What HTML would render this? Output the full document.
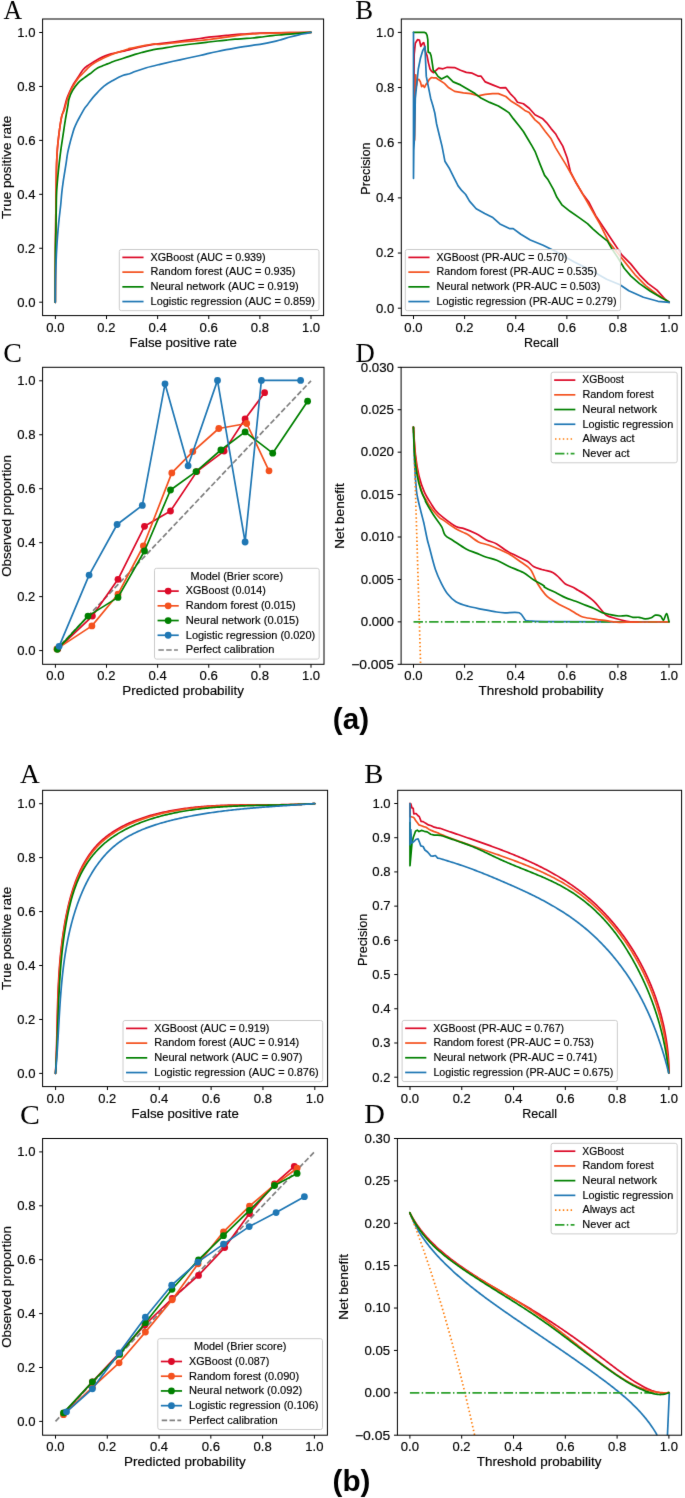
<!DOCTYPE html>
<html><head><meta charset="utf-8"><title>Model evaluation figure</title>
<style>html,body{margin:0;padding:0;background:#fff;} body{width:685px;height:1498px;overflow:hidden;font-family:"Liberation Sans",sans-serif;} svg{display:block;}</style>
</head><body>
<svg width="685" height="1498" viewBox="0 0 685 1498" font-family='"Liberation Sans", sans-serif'>
<defs><clipPath id="tA"><rect x="42.6" y="19" width="281" height="296.6"/></clipPath><clipPath id="tB"><rect x="401.3" y="19" width="280.3" height="296.6"/></clipPath><clipPath id="tC"><rect x="42.6" y="367.3" width="281.4" height="297"/></clipPath><clipPath id="tD"><rect x="401.1" y="367.3" width="280.5" height="297"/></clipPath><clipPath id="bA"><rect x="42.6" y="790.3" width="285" height="296.3"/></clipPath><clipPath id="bB"><rect x="397.7" y="790.3" width="283.9" height="296.3"/></clipPath><clipPath id="bC"><rect x="42.6" y="1138.5" width="284.8" height="296.7"/></clipPath><clipPath id="bD"><rect x="397.4" y="1138.5" width="284.2" height="296.7"/></clipPath><filter id="soft" x="0" y="0" width="685" height="1498" filterUnits="userSpaceOnUse" color-interpolation-filters="sRGB"><feConvolveMatrix order="3" kernelMatrix="0.00524 0.06192 0.00524 0.06192 0.73137 0.06192 0.00524 0.06192 0.00524" divisor="1" edgeMode="duplicate" preserveAlpha="true"/></filter></defs>
<g filter="url(#soft)">
<rect x="0" y="0" width="685" height="1498" fill="#ffffff"/>
<path d="M55.3,302.3 C55.33,293.58 55.4,266.22 55.5,250 C55.6,233.78 55.77,217 55.9,205 C56.03,193 56.18,184.93 56.3,178 C56.42,171.07 56.42,168.27 56.6,163.4 C56.78,158.53 57.08,153.07 57.4,148.8 C57.72,144.53 58.08,141.45 58.5,137.8 C58.92,134.15 59.35,130.53 59.9,126.9 C60.45,123.27 61.15,118.82 61.8,116 C62.45,113.18 62.98,112.85 63.8,110 C64.62,107.15 65.73,101.92 66.7,98.9 C67.67,95.88 68.43,94.43 69.6,91.9 C70.77,89.37 72.23,86.23 73.7,83.7 C75.17,81.17 76.85,79.03 78.4,76.7 C79.95,74.37 81.45,71.55 83,69.7 C84.55,67.85 85.95,66.87 87.7,65.6 C89.45,64.33 91.55,63.27 93.5,62.1 C95.45,60.93 97.45,59.63 99.4,58.6 C101.35,57.57 103.25,56.68 105.2,55.9 C107.15,55.12 108.95,54.52 111.1,53.9 C113.25,53.28 115.77,52.72 118.1,52.2 C120.43,51.68 123.12,51.23 125.1,50.8 C127.08,50.37 127.23,50.28 130,49.6 C132.77,48.92 137.8,47.57 141.7,46.7 C145.6,45.83 150.35,44.9 153.4,44.4 C156.45,43.9 155.58,44.25 160,43.7 C164.42,43.15 173.23,41.97 179.9,41.1 C186.57,40.23 195.18,39.15 200,38.5 C204.82,37.85 205.88,37.57 208.8,37.2 C211.72,36.83 214.58,36.6 217.5,36.3 C220.42,36 223.38,35.68 226.3,35.4 C229.22,35.12 232.08,34.83 235,34.6 C237.92,34.37 240.88,34.2 243.8,34 C246.72,33.8 249.8,33.55 252.5,33.4 C255.2,33.25 256.67,33.18 260,33.1 C263.33,33.02 267.5,32.98 272.5,32.9 C277.5,32.82 283.58,32.68 290,32.6 C296.42,32.52 307.5,32.43 311,32.4" fill="none" stroke="#dc0a28" stroke-width="1.7" stroke-linejoin="round" stroke-linecap="round" clip-path="url(#tA)"/>
<path d="M55.3,302.3 C55.33,293.58 55.4,266.22 55.5,250 C55.6,233.78 55.77,217 55.9,205 C56.03,193 56.18,184.93 56.3,178 C56.42,171.07 56.42,168.27 56.6,163.4 C56.78,158.53 57.08,153.07 57.4,148.8 C57.72,144.53 58.08,141.45 58.5,137.8 C58.92,134.15 59.35,130.53 59.9,126.9 C60.45,123.27 61.07,118.82 61.8,116 C62.53,113.18 63.3,113.05 64.3,110 C65.3,106.95 66.43,101.5 67.8,97.7 C69.17,93.9 70.73,90.5 72.5,87.2 C74.27,83.9 76.45,80.43 78.4,77.9 C80.35,75.37 82.27,73.95 84.2,72 C86.13,70.05 88.05,67.85 90,66.2 C91.95,64.55 93.95,63.3 95.9,62.1 C97.85,60.9 99.75,59.97 101.7,59 C103.65,58.03 105.65,57.15 107.6,56.3 C109.55,55.45 111.27,54.68 113.4,53.9 C115.53,53.12 118.07,52.37 120.4,51.6 C122.73,50.83 125.8,49.83 127.4,49.3 C129,48.77 127.62,48.93 130,48.4 C132.38,47.87 137.8,46.83 141.7,46.1 C145.6,45.37 150.35,44.3 153.4,44 C156.45,43.7 155.58,44.6 160,44.3 C164.42,44 173.23,42.83 179.9,42.2 C186.57,41.57 195.18,40.95 200,40.5 C204.82,40.05 205.88,39.87 208.8,39.5 C211.72,39.13 214.58,38.68 217.5,38.3 C220.42,37.92 223.38,37.6 226.3,37.2 C229.22,36.8 232.08,36.33 235,35.9 C237.92,35.47 240.88,34.92 243.8,34.6 C246.72,34.28 249.8,34.18 252.5,34 C255.2,33.82 256.67,33.65 260,33.5 C263.33,33.35 267.5,33.23 272.5,33.1 C277.5,32.97 283.58,32.82 290,32.7 C296.42,32.58 307.5,32.45 311,32.4" fill="none" stroke="#f4511e" stroke-width="1.7" stroke-linejoin="round" stroke-linecap="round" clip-path="url(#tA)"/>
<path d="M55.3,302.3 C55.3,297.08 55.27,280.22 55.3,271 C55.33,261.78 55.38,254.67 55.5,247 C55.62,239.33 55.87,232 56,225 C56.13,218 56.2,210.4 56.3,205 C56.4,199.6 56.37,197.1 56.6,192.6 C56.83,188.1 57.27,182.87 57.7,178 C58.13,173.13 58.65,168.27 59.2,163.4 C59.75,158.53 60.33,153.67 61,148.8 C61.67,143.93 62.47,139.07 63.2,134.2 C63.93,129.33 64.6,124.47 65.4,119.6 C66.2,114.73 67.4,108.45 68,105 C68.6,101.55 68.25,101.28 69,98.9 C69.75,96.52 70.93,93.42 72.5,90.7 C74.07,87.98 76.45,84.73 78.4,82.6 C80.35,80.47 82.27,79.37 84.2,77.9 C86.13,76.43 88.05,75.27 90,73.8 C91.95,72.33 93.95,70.37 95.9,69.1 C97.85,67.83 99.75,67.07 101.7,66.2 C103.65,65.33 105.65,64.68 107.6,63.9 C109.55,63.12 111.27,62.28 113.4,61.5 C115.53,60.72 118.07,59.97 120.4,59.2 C122.73,58.43 124.97,57.7 127.4,56.9 C129.83,56.1 132.62,55.13 135,54.4 C137.38,53.67 138.63,53.3 141.7,52.5 C144.77,51.7 150.35,50.23 153.4,49.6 C156.45,48.97 155.58,49.38 160,48.7 C164.42,48.02 173.23,46.43 179.9,45.5 C186.57,44.57 195.18,43.68 200,43.1 C204.82,42.52 205.88,42.35 208.8,42 C211.72,41.65 214.58,41.32 217.5,41 C220.42,40.68 223.38,40.4 226.3,40.1 C229.22,39.8 232.08,39.45 235,39.2 C237.92,38.95 240.88,38.8 243.8,38.6 C246.72,38.4 249.8,38.23 252.5,38 C255.2,37.77 256.67,37.6 260,37.2 C263.33,36.8 268.95,36 272.5,35.6 C276.05,35.2 278.38,35.05 281.3,34.8 C284.22,34.55 287.08,34.33 290,34.1 C292.92,33.87 295.3,33.68 298.8,33.4 C302.3,33.12 308.97,32.57 311,32.4" fill="none" stroke="#008000" stroke-width="1.7" stroke-linejoin="round" stroke-linecap="round" clip-path="url(#tA)"/>
<path d="M55.3,302.3 C55.35,297.95 55.35,285.4 55.6,276.2 C55.85,267 56.28,255.98 56.8,247.1 C57.32,238.22 58.05,229.92 58.7,222.9 C59.35,215.88 60.18,210.05 60.7,205 C61.22,199.95 61.38,196.5 61.8,192.6 C62.22,188.7 62.72,185 63.2,181.6 C63.68,178.2 64.22,175.23 64.7,172.2 C65.18,169.17 65.62,166.57 66.1,163.4 C66.58,160.23 66.98,156.48 67.6,153.2 C68.22,149.92 69.07,146.62 69.8,143.7 C70.53,140.78 71.27,138.25 72,135.7 C72.73,133.15 73.35,130.72 74.2,128.4 C75.05,126.08 76.02,124 77.1,121.8 C78.18,119.6 79.48,117.4 80.7,115.2 C81.92,113 83.3,110.3 84.4,108.6 C85.5,106.9 86.37,106.23 87.3,105 C88.23,103.77 88.57,103 90,101.2 C91.43,99.4 93.57,96.72 95.9,94.2 C98.23,91.68 101.08,88.43 104,86.1 C106.92,83.77 110.28,81.97 113.4,80.2 C116.52,78.43 119.98,76.57 122.7,75.5 C125.42,74.43 127.65,74.47 129.7,73.8 C131.75,73.13 132.22,72.52 135,71.5 C137.78,70.48 142.23,68.9 146.4,67.7 C150.57,66.5 154.42,65.62 160,64.3 C165.58,62.98 173.23,61.27 179.9,59.8 C186.57,58.33 195.18,56.57 200,55.5 C204.82,54.43 205.88,54.07 208.8,53.4 C211.72,52.73 214.58,52.12 217.5,51.5 C220.42,50.88 223.38,50.27 226.3,49.7 C229.22,49.13 232.08,48.62 235,48.1 C237.92,47.58 240.88,47.07 243.8,46.6 C246.72,46.13 249.8,45.68 252.5,45.3 C255.2,44.92 256.67,44.87 260,44.3 C263.33,43.73 268.95,42.68 272.5,41.9 C276.05,41.12 278.38,40.42 281.3,39.6 C284.22,38.78 287.08,37.8 290,37 C292.92,36.2 295.88,35.43 298.8,34.8 C301.72,34.17 305.47,33.6 307.5,33.2 C309.53,32.8 310.42,32.53 311,32.4" fill="none" stroke="#1f77b4" stroke-width="1.7" stroke-linejoin="round" stroke-linecap="round" clip-path="url(#tA)"/>
<path d="M413.9,140 L414,80 L414.2,54.3 L415.3,43.3 L417.5,39.7 L419.4,40 L420.8,46.3 L422.7,43.3 L423.8,42.6 L424.5,45.5 L425.6,52.1 L427.1,55.8 L428.5,63.1 L430,69 L431.5,71.2 L433.7,72.7 L435.9,70.5 L438.6,68.1 L443,68.8 L447.3,67.3 L454.6,67.6 L460.5,70.3 L466.3,72.4 L472.2,73.2 L478,76.1 L480.9,76.1 L485.3,81.9 L492.6,84.9 L499.9,87.8 L505.8,87.7 L510.2,93.6 L514.6,98 L517.5,102.3 L523.4,103.8 L529.2,108.2 L535,114.7 L542.3,118.4 L546.7,122.8 L551.1,128.6 L555.5,133.7 L558.4,138.8 L562.8,146.1 L567.2,158 L570.5,171.9 L576,182.8 L582.6,193.8 L589.1,202.6 L595.7,215.7 L604.4,228.8 L613.2,242 L622,255.1 L630.7,263.9 L639.5,274.8 L648.2,283.6 L657,290.1 L665.8,300 L669.2,302.3" fill="none" stroke="#dc0a28" stroke-width="1.7" stroke-linejoin="round" stroke-linecap="round" clip-path="url(#tB)"/>
<path d="M414.6,140 L415.2,90 L415.7,74.9 L416.4,85.9 L417.5,80 L419,79.3 L420.5,82.2 L421.6,86.6 L423,85.2 L424.5,87.4 L426,84.4 L427.8,82.2 L429.3,79.3 L431.5,77.5 L433.7,77.8 L435.9,77.8 L438,79.3 L440,80.5 L444.4,83.4 L448.8,87.8 L454.6,91.4 L463.4,92.9 L470.7,93.6 L478,95.8 L485.3,94.3 L492.6,93.6 L498.4,93.6 L505.8,96.5 L511.7,101.6 L519,106 L524.8,110.4 L529.2,112.6 L535,119.9 L539.4,123.5 L545.3,131.5 L551.1,138.8 L555.5,147.6 L559.9,154.9 L565,163.1 L573.8,178.5 L582.6,193.8 L591.3,209.1 L600.1,224.4 L608.8,242 L617.6,252.9 L626.3,263.9 L635.1,274.8 L646,285.8 L657,294.5 L665.8,300 L669.2,302.3" fill="none" stroke="#f4511e" stroke-width="1.7" stroke-linejoin="round" stroke-linecap="round" clip-path="url(#tB)"/>
<path d="M413.5,32.3 L424.1,32.3 L426,33.1 L427.1,35.3 L427.8,39.7 L428.2,52.1 L430,52.9 L431.1,55.8 L431.8,60.2 L432.6,65.3 L433.3,70.5 L435.1,72 L437,74.9 L438,76.4 L441.5,79 L447.3,76.1 L453.2,81.9 L460.5,84.9 L467.8,89.2 L475.1,93.6 L480.9,98 L489.7,102.4 L498.4,106 L504.5,109.8 L508.8,112.6 L513.1,118.4 L519,125.7 L523.4,131.5 L527.7,138.8 L532.1,146.1 L535,151.3 L540.3,164.9 L544.6,175.4 L548.1,179.8 L553.4,189.4 L556.9,197.3 L562.2,205.2 L570,211.3 L578.8,217.4 L587.5,223.6 L592.8,228.8 L598.8,234.2 L607.5,241.2 L611.5,248.2 L617.6,257.3 L624.2,268.2 L630.7,275.9 L639.5,283.6 L650.4,291.2 L661.4,297.8 L665.8,300 L669.2,302.3" fill="none" stroke="#008000" stroke-width="1.7" stroke-linejoin="round" stroke-linecap="round" clip-path="url(#tB)"/>
<path d="M413.5,32.3 L413.5,178.3 L413.8,150 L414.6,134.9 L415.3,98.4 L416.8,83.7 L418.3,69 L420.5,58 L422.7,50.7 L425,46.6 L425.6,61.7 L426.3,76.4 L428.5,87.4 L430.7,98.4 L432.9,105.7 L434.8,113 L436.6,124 L439.2,134.7 L442,146.1 L444.9,161.2 L449.6,168.8 L454.3,178.3 L458.1,185.9 L461.9,190.7 L465.7,194.5 L469.5,201.1 L476.2,208.7 L484.7,213.4 L492.3,217.2 L499.9,223.9 L509.4,228.6 L513.2,228.6 L520.8,234.3 L530.3,240 L543.1,245.2 L556.3,251.8 L573.8,261.7 L591.3,270.4 L606.6,279.2 L620,284.8 L628.8,290.7 L643.4,297.2 L658,301.3 L669.2,302.3" fill="none" stroke="#1f77b4" stroke-width="1.7" stroke-linejoin="round" stroke-linecap="round" clip-path="url(#tB)"/>
<path d="M55.4,650.6 L311,380.8" fill="none" stroke="#808080" stroke-width="1.7" stroke-linejoin="round" stroke-linecap="butt" stroke-dasharray="5.46,2.36" clip-path="url(#tC)"/>
<path d="M57.8,648.9 L92.4,616.1 L118,579.3 L144.5,526.3 L170.5,511 L196.8,471.6 L224.1,451.1 L245.1,419 L264.6,392.7" fill="none" stroke="#dc0a28" stroke-width="1.7" stroke-linejoin="round" stroke-linecap="round" clip-path="url(#tC)"/>
<circle cx="57.8" cy="648.9" r="3.4" fill="#dc0a28" clip-path="url(#tC)"/>
<circle cx="92.4" cy="616.1" r="3.4" fill="#dc0a28" clip-path="url(#tC)"/>
<circle cx="118" cy="579.3" r="3.4" fill="#dc0a28" clip-path="url(#tC)"/>
<circle cx="144.5" cy="526.3" r="3.4" fill="#dc0a28" clip-path="url(#tC)"/>
<circle cx="170.5" cy="511" r="3.4" fill="#dc0a28" clip-path="url(#tC)"/>
<circle cx="196.8" cy="471.6" r="3.4" fill="#dc0a28" clip-path="url(#tC)"/>
<circle cx="224.1" cy="451.1" r="3.4" fill="#dc0a28" clip-path="url(#tC)"/>
<circle cx="245.1" cy="419" r="3.4" fill="#dc0a28" clip-path="url(#tC)"/>
<circle cx="264.6" cy="392.7" r="3.4" fill="#dc0a28" clip-path="url(#tC)"/>
<path d="M56.9,648.9 L91.9,625.9 L118,594.2 L143.4,546 L171.8,472.9 L192.8,451.6 L218.8,428.5 L246.7,423.5 L269,470.8" fill="none" stroke="#f4511e" stroke-width="1.7" stroke-linejoin="round" stroke-linecap="round" clip-path="url(#tC)"/>
<circle cx="56.9" cy="648.9" r="3.4" fill="#f4511e" clip-path="url(#tC)"/>
<circle cx="91.9" cy="625.9" r="3.4" fill="#f4511e" clip-path="url(#tC)"/>
<circle cx="118" cy="594.2" r="3.4" fill="#f4511e" clip-path="url(#tC)"/>
<circle cx="143.4" cy="546" r="3.4" fill="#f4511e" clip-path="url(#tC)"/>
<circle cx="171.8" cy="472.9" r="3.4" fill="#f4511e" clip-path="url(#tC)"/>
<circle cx="192.8" cy="451.6" r="3.4" fill="#f4511e" clip-path="url(#tC)"/>
<circle cx="218.8" cy="428.5" r="3.4" fill="#f4511e" clip-path="url(#tC)"/>
<circle cx="246.7" cy="423.5" r="3.4" fill="#f4511e" clip-path="url(#tC)"/>
<circle cx="269" cy="470.8" r="3.4" fill="#f4511e" clip-path="url(#tC)"/>
<path d="M57.3,649.3 L88,616.1 L118,597.4 L144.5,551 L170.5,490 L196,471.6 L220.9,450 L245.1,431.9 L272.7,453.2 L307.6,401.2" fill="none" stroke="#008000" stroke-width="1.7" stroke-linejoin="round" stroke-linecap="round" clip-path="url(#tC)"/>
<circle cx="57.3" cy="649.3" r="3.4" fill="#008000" clip-path="url(#tC)"/>
<circle cx="88" cy="616.1" r="3.4" fill="#008000" clip-path="url(#tC)"/>
<circle cx="118" cy="597.4" r="3.4" fill="#008000" clip-path="url(#tC)"/>
<circle cx="144.5" cy="551" r="3.4" fill="#008000" clip-path="url(#tC)"/>
<circle cx="170.5" cy="490" r="3.4" fill="#008000" clip-path="url(#tC)"/>
<circle cx="196" cy="471.6" r="3.4" fill="#008000" clip-path="url(#tC)"/>
<circle cx="220.9" cy="450" r="3.4" fill="#008000" clip-path="url(#tC)"/>
<circle cx="245.1" cy="431.9" r="3.4" fill="#008000" clip-path="url(#tC)"/>
<circle cx="272.7" cy="453.2" r="3.4" fill="#008000" clip-path="url(#tC)"/>
<circle cx="307.6" cy="401.2" r="3.4" fill="#008000" clip-path="url(#tC)"/>
<path d="M59.1,646.3 L89.1,575.1 L117.1,524.5 L142.3,505.4 L165,383.8 L188.1,465.8 L217.5,380.4 L245.1,542 L261.4,380.4 L300.6,380.4" fill="none" stroke="#1f77b4" stroke-width="1.7" stroke-linejoin="round" stroke-linecap="round" clip-path="url(#tC)"/>
<circle cx="59.1" cy="646.3" r="3.4" fill="#1f77b4" clip-path="url(#tC)"/>
<circle cx="89.1" cy="575.1" r="3.4" fill="#1f77b4" clip-path="url(#tC)"/>
<circle cx="117.1" cy="524.5" r="3.4" fill="#1f77b4" clip-path="url(#tC)"/>
<circle cx="142.3" cy="505.4" r="3.4" fill="#1f77b4" clip-path="url(#tC)"/>
<circle cx="165" cy="383.8" r="3.4" fill="#1f77b4" clip-path="url(#tC)"/>
<circle cx="188.1" cy="465.8" r="3.4" fill="#1f77b4" clip-path="url(#tC)"/>
<circle cx="217.5" cy="380.4" r="3.4" fill="#1f77b4" clip-path="url(#tC)"/>
<circle cx="245.1" cy="542" r="3.4" fill="#1f77b4" clip-path="url(#tC)"/>
<circle cx="261.4" cy="380.4" r="3.4" fill="#1f77b4" clip-path="url(#tC)"/>
<circle cx="300.6" cy="380.4" r="3.4" fill="#1f77b4" clip-path="url(#tC)"/>
<path d="M413.4,427 C413.6,433.13 414.1,453.3 414.6,463.8 C415.1,474.3 415.82,483.97 416.4,490 C416.98,496.03 417.37,496.48 418.1,500 C418.83,503.52 419.95,507.7 420.8,511.1 C421.65,514.5 422.62,518.07 423.2,520.4 C423.78,522.73 423.6,521.83 424.3,525.1 C425,528.37 426.57,536.35 427.4,540 C428.23,543.65 427.97,542.08 429.3,547 C430.63,551.92 433.35,563.37 435.4,569.5 C437.45,575.63 439.55,579.72 441.6,583.8 C443.65,587.88 445.32,591 447.7,594 C450.08,597 452.5,599.75 455.9,601.8 C459.3,603.85 463.68,605.05 468.1,606.3 C472.52,607.55 477.63,608.35 482.4,609.3 C487.17,610.25 492.95,611.42 496.7,612 C500.45,612.58 501.15,612.67 504.9,612.8 C508.65,612.93 515.78,611.57 519.2,612.8 C522.62,614.03 523.7,618.83 525.4,620.2 C527.1,621.57 524.47,620.77 529.4,621 C534.33,621.23 531.73,621.45 555,621.6 C578.27,621.75 650,621.85 669,621.9" fill="none" stroke="#1f77b4" stroke-width="1.7" stroke-linejoin="round" stroke-linecap="round" clip-path="url(#tD)"/>
<path d="M413.5,427.55 L413.65,432.39 L413.8,437.23 L413.95,442.08 L414.1,446.94 L414.25,451.8 L414.39,456.67 L414.54,461.54 L414.69,466.42 L414.84,471.31 L414.99,476.2 L415.14,481.1 L415.29,486 L415.44,490.91 L415.59,495.82 L415.74,500.74 L415.88,505.66 L416.03,510.6 L416.18,515.53 L416.33,520.47 L416.48,525.42 L416.63,530.38 L416.78,535.34 L416.93,540.3 L417.08,545.28 L417.23,550.25 L417.38,555.24 L417.52,560.23 L417.67,565.22 L417.82,570.22 L417.97,575.23 L418.12,580.25 L418.27,585.27 L418.42,590.29 L418.57,595.32 L418.72,600.36 L418.87,605.4 L419.01,610.45 L419.16,615.51 L419.31,620.57 L419.46,625.64 L419.61,630.71 L419.76,635.79 L419.91,640.88 L420.06,645.97 L420.21,651.06 L420.36,656.17 L420.5,661.28 L420.65,666.4 L420.8,671.52 L420.95,676.65 L421.1,681.78 L421.25,686.92 L421.4,692.07 L421.55,697.22 L421.7,702.38 L421.85,707.55 L422,712.72 L422.14,717.9 L422.29,723.08 L422.44,728.27" fill="none" stroke="#ff7f0e" stroke-width="1.7" stroke-linejoin="round" stroke-linecap="butt" stroke-dasharray="1.47,2.43" clip-path="url(#tD)"/>
<path d="M413.5,621.87 L669,621.87" fill="none" stroke="#2ca02c" stroke-width="1.7" stroke-linejoin="round" stroke-linecap="butt" stroke-dasharray="9.44,2.36,1.47,2.36" clip-path="url(#tD)"/>
<path d="M413.4,427 C413.75,431.67 414.57,446.83 415.5,455 C416.43,463.17 417.53,469.87 419,476 C420.47,482.13 422.25,487.12 424.3,491.8 C426.35,496.48 429.45,501.03 431.3,504.1 C433.15,507.17 433.65,508.15 435.4,510.2 C437.15,512.25 438.38,513.67 441.8,516.4 C445.22,519.13 452.2,524.57 455.9,526.6 C459.6,528.63 460.6,527.42 464,528.6 C467.4,529.78 472.55,531.82 476.3,533.7 C480.05,535.58 483.1,538.2 486.5,539.9 C489.9,541.6 493.28,542.03 496.7,543.9 C500.12,545.77 503.58,549.05 507,551.1 C510.42,553.15 513.8,554.5 517.2,556.2 C520.6,557.9 524.68,559.6 527.4,561.3 C530.12,563 531.12,565.03 533.5,566.4 C535.88,567.77 539.78,568.87 541.7,569.5 C543.62,570.13 543.08,569.67 545,570.2 C546.92,570.73 550.82,571.43 553.2,572.7 C555.58,573.97 557.27,575.92 559.3,577.8 C561.33,579.68 563.02,582.4 565.4,584 C567.78,585.6 571.55,586.38 573.6,587.4 C575.65,588.42 576,589.08 577.7,590.1 C579.4,591.12 581.08,591.63 583.8,593.5 C586.52,595.37 591.27,598.8 594,601.3 C596.73,603.8 598.15,606.18 600.2,608.5 C602.25,610.82 603.58,613.5 606.3,615.2 C609.02,616.9 613.1,617.68 616.5,618.7 C619.9,619.72 624.28,620.77 626.7,621.3 C629.12,621.83 629.12,621.78 631,621.9 C632.88,622.02 636.83,621.98 638,622" fill="none" stroke="#dc0a28" stroke-width="1.7" stroke-linejoin="round" stroke-linecap="round" clip-path="url(#tD)"/>
<path d="M413.4,427 C413.7,431.67 414.32,446.23 415.2,455 C416.08,463.77 417.48,473.17 418.7,479.6 C419.92,486.03 421.25,490.2 422.5,493.6 C423.75,497 425.03,497.97 426.2,500 C427.37,502.03 427.97,503.58 429.5,505.8 C431.03,508.02 433.65,511.25 435.4,513.3 C437.15,515.35 438.63,516.92 440,518.1 C441.37,519.28 441.1,518.72 443.6,520.4 C446.1,522.08 451.5,526.1 455,528.2 C458.5,530.3 462.42,531.92 464.6,533 C466.78,534.08 465.8,533.22 468.1,534.7 C470.4,536.18 474.98,540.18 478.4,541.9 C481.82,543.62 484.87,543.63 488.6,545 C492.33,546.37 497.05,548.4 500.8,550.1 C504.55,551.8 507.68,553.17 511.1,555.2 C514.52,557.23 518.07,559.92 521.3,562.3 C524.53,564.68 527.78,565.92 530.5,569.5 C533.22,573.08 535.12,579.62 537.6,583.8 C540.08,587.98 543.15,592.02 545.4,594.6 C547.65,597.18 548.78,597.67 551.1,599.3 C553.42,600.93 556.23,602.7 559.3,604.4 C562.37,606.1 566.43,607.8 569.5,609.5 C572.57,611.2 575.32,613.3 577.7,614.6 C580.08,615.9 580.73,616.52 583.8,617.3 C586.87,618.08 592.35,618.73 596.1,619.3 C599.85,619.87 602.9,620.22 606.3,620.7 C609.7,621.18 613.1,621.95 616.5,622.2 C619.9,622.45 617.95,622.27 626.7,622.2 C635.45,622.13 661.95,621.87 669,621.8" fill="none" stroke="#f4511e" stroke-width="1.7" stroke-linejoin="round" stroke-linecap="round" clip-path="url(#tD)"/>
<path d="M413.4,427 C413.6,431.67 413.95,446.83 414.6,455 C415.25,463.17 416.27,470.17 417.3,476 C418.33,481.83 419.48,486 420.8,490 C422.12,494 424.33,497.95 425.2,500 C426.07,502.05 424.67,499.88 426,502.3 C427.33,504.72 430.6,510.45 433.2,514.5 C435.8,518.55 439.6,523.13 441.6,526.6 C443.6,530.07 443.3,532.98 445.2,535.3 C447.1,537.62 449.52,538.22 453,540.5 C456.48,542.78 462.22,546.9 466.1,549 C469.98,551.1 472.9,551.73 476.3,553.1 C479.7,554.47 483.1,556 486.5,557.2 C489.9,558.4 492.95,558.77 496.7,560.3 C500.45,561.83 504.57,564.35 509,566.4 C513.43,568.45 519.22,570.38 523.3,572.6 C527.38,574.82 530.08,577.5 533.5,579.7 C536.92,581.9 541.88,584.52 543.8,585.8 C545.72,587.08 542.75,586.12 545,587.4 C547.25,588.68 553.9,591.8 557.3,593.5 C560.7,595.2 562.33,596.3 565.4,597.6 C568.47,598.9 572.28,600 575.7,601.3 C579.12,602.6 582.85,604.2 585.9,605.4 C588.95,606.6 591.28,607.3 594,608.5 C596.72,609.7 599.47,611.58 602.2,612.6 C604.93,613.62 607.67,614.03 610.4,614.6 C613.13,615.17 615.88,615.83 618.6,616 C621.32,616.17 624.32,615.38 626.7,615.6 C629.08,615.82 630.85,617.02 632.9,617.3 C634.95,617.58 636.97,617.03 639,617.3 C641.03,617.57 643.05,618.83 645.1,618.9 C647.15,618.97 649.58,618.32 651.3,617.7 C653.02,617.08 653.87,615.48 655.4,615.2 C656.93,614.92 659.15,615.18 660.5,616 C661.85,616.82 662.48,620.5 663.5,620.1 C664.52,619.7 665.68,613.33 666.6,613.6 C667.52,613.87 668.6,620.35 669,621.7" fill="none" stroke="#008000" stroke-width="1.7" stroke-linejoin="round" stroke-linecap="round" clip-path="url(#tD)"/>
<path d="M55.5,1073.4 L55.58,1071.89 L55.65,1070.39 L55.72,1068.89 L55.79,1067.38 L55.86,1065.88 L55.93,1064.38 L55.99,1062.88 L56.05,1061.38 L56.11,1059.88 L56.16,1058.38 L56.22,1056.88 L56.27,1055.39 L56.32,1053.89 L56.37,1052.39 L56.42,1050.9 L56.46,1049.4 L56.5,1047.91 L56.55,1046.42 L56.59,1044.92 L56.63,1043.43 L56.67,1041.94 L56.71,1040.44 L56.75,1038.95 L56.78,1037.46 L56.82,1035.97 L56.85,1034.48 L56.89,1032.99 L56.92,1031.5 L56.96,1030.01 L56.99,1028.52 L57.03,1027.04 L57.06,1025.55 L57.1,1024.06 L57.13,1022.57 L57.17,1021.08 L57.2,1019.6 L57.24,1018.11 L57.27,1016.62 L57.31,1015.14 L57.35,1013.65 L57.39,1012.17 L57.43,1010.68 L57.47,1009.19 L57.51,1007.71 L57.55,1006.22 L57.6,1004.74 L57.64,1003.25 L57.69,1001.77 L57.74,1000.28 L57.79,998.8 L57.84,997.31 L57.9,995.83 L57.95,994.34 L58.01,992.86 L58.07,991.37 L58.13,989.89 L58.2,988.4 L58.27,986.92 L58.34,985.43 L58.41,983.95 L58.49,982.46 L58.56,980.97 L58.65,979.49 L58.73,978 L58.82,976.52 L58.91,975.03 L59,973.54 L59.1,972.06 L59.2,970.57 L59.31,969.08 L59.41,967.59 L59.53,966.11 L59.64,964.62 L59.76,963.13 L59.89,961.64 L60.01,960.15 L60.15,958.66 L60.28,957.17 L60.42,955.68 L60.57,954.19 L60.72,952.7 L60.88,951.21 L61.04,949.72 L61.2,948.22 L61.37,946.73 L61.55,945.24 L61.73,943.74 L61.91,942.25 L62.1,940.75 L62.3,939.26 L62.5,937.76 L62.71,936.26 L62.92,934.77 L63.14,933.27 L63.37,931.77 L63.6,930.27 L63.83,928.77 L64.08,927.27 L64.33,925.77 L64.58,924.26 L64.85,922.76 L65.12,921.26 L65.39,919.75 L65.68,918.25 L65.97,916.74 L66.26,915.24 L66.57,913.73 L66.88,912.23 L67.2,910.73 L67.53,909.23 L67.87,907.73 L68.21,906.23 L68.57,904.73 L68.93,903.24 L69.3,901.75 L69.69,900.27 L70.08,898.78 L70.48,897.31 L70.89,895.83 L71.31,894.36 L71.74,892.9 L72.19,891.44 L72.64,889.99 L73.1,888.54 L73.58,887.1 L74.07,885.66 L74.57,884.24 L75.08,882.81 L75.6,881.4 L76.13,880 L76.68,878.6 L77.24,877.21 L77.82,875.83 L78.4,874.46 L79,873.1 L79.61,871.75 L80.24,870.41 L80.88,869.08 L81.54,867.76 L82.21,866.46 L82.89,865.16 L83.59,863.87 L84.3,862.6 L85.03,861.34 L85.78,860.1 L86.54,858.86 L87.31,857.64 L88.1,856.43 L88.91,855.24 L89.74,854.06 L90.58,852.9 L91.44,851.75 L92.31,850.62 L93.2,849.5 L94.11,848.4 L95.04,847.31 L95.99,846.24 L96.95,845.19 L97.93,844.16 L98.93,843.14 L99.95,842.14 L100.99,841.16 L102.04,840.19 L103.12,839.25 L104.21,838.32 L105.31,837.41 L106.44,836.51 L107.58,835.64 L108.73,834.77 L109.91,833.93 L111.09,833.1 L112.3,832.29 L113.51,831.49 L114.74,830.71 L115.99,829.95 L117.25,829.2 L118.52,828.47 L119.8,827.75 L121.1,827.04 L122.41,826.35 L123.73,825.68 L125.06,825.02 L126.4,824.38 L127.76,823.74 L129.12,823.13 L130.49,822.52 L131.88,821.93 L133.27,821.36 L134.67,820.8 L136.08,820.25 L137.5,819.71 L138.93,819.19 L140.36,818.68 L141.8,818.18 L143.25,817.69 L144.71,817.22 L146.17,816.76 L147.64,816.31 L149.11,815.87 L150.59,815.44 L152.07,815.03 L153.55,814.62 L155.05,814.23 L156.54,813.85 L158.04,813.48 L159.54,813.12 L161.04,812.77 L162.55,812.43 L164.06,812.1 L165.57,811.78 L167.08,811.47 L168.59,811.17 L170.1,810.88 L171.61,810.59 L173.13,810.32 L174.64,810.06 L176.15,809.8 L177.66,809.56 L179.17,809.32 L180.67,809.09 L182.18,808.87 L183.68,808.65 L185.19,808.45 L186.69,808.25 L188.18,808.06 L189.68,807.87 L191.18,807.7 L192.67,807.53 L194.17,807.37 L195.66,807.21 L197.15,807.06 L198.64,806.92 L200.13,806.78 L201.61,806.65 L203.1,806.53 L204.59,806.41 L206.07,806.3 L207.55,806.2 L209.04,806.09 L210.52,806 L212,805.91 L213.48,805.82 L214.96,805.74 L216.44,805.67 L217.92,805.59 L219.39,805.53 L220.87,805.46 L222.35,805.41 L223.82,805.35 L225.3,805.3 L226.77,805.25 L228.25,805.21 L229.72,805.17 L231.2,805.13 L232.67,805.1 L234.15,805.07 L235.62,805.04 L237.1,805.01 L238.57,804.99 L240.04,804.97 L241.52,804.95 L242.99,804.93 L244.47,804.92 L245.94,804.91 L247.42,804.89 L248.89,804.88 L250.37,804.88 L251.85,804.87 L253.32,804.86 L254.8,804.86 L256.28,804.85 L257.76,804.85 L259.24,804.84 L260.71,804.84 L262.2,804.83 L263.68,804.83 L265.16,804.83 L266.64,804.82 L268.12,804.82 L269.61,804.81 L271.09,804.8 L272.58,804.8 L274.07,804.79 L275.56,804.78 L277.05,804.77 L278.54,804.75 L280.03,804.74 L281.52,804.72 L283.02,804.7 L284.52,804.68 L286.01,804.66 L287.51,804.64 L289.01,804.61 L290.52,804.58 L292.02,804.55 L293.53,804.51 L295.03,804.47 L296.54,804.43 L298.05,804.38 L299.56,804.33 L301.08,804.28 L302.6,804.22 L304.11,804.16 L305.63,804.09 L307.16,804.02 L308.68,803.95 L310.21,803.87 L311.74,803.78 L313.27,803.69 L314.8,803.6" fill="none" stroke="#dc0a28" stroke-width="1.7" stroke-linejoin="round" stroke-linecap="round" clip-path="url(#bA)"/>
<path d="M55.5,1073.4 L55.59,1071.92 L55.68,1070.43 L55.77,1068.95 L55.85,1067.46 L55.93,1065.98 L56.01,1064.49 L56.08,1063.01 L56.16,1061.52 L56.23,1060.03 L56.29,1058.55 L56.36,1057.06 L56.42,1055.57 L56.48,1054.09 L56.54,1052.6 L56.6,1051.11 L56.65,1049.63 L56.7,1048.14 L56.75,1046.65 L56.8,1045.16 L56.85,1043.67 L56.9,1042.18 L56.94,1040.7 L56.99,1039.21 L57.03,1037.72 L57.07,1036.23 L57.11,1034.74 L57.15,1033.25 L57.19,1031.76 L57.23,1030.27 L57.27,1028.78 L57.31,1027.29 L57.35,1025.8 L57.39,1024.31 L57.43,1022.82 L57.46,1021.32 L57.5,1019.83 L57.54,1018.34 L57.58,1016.85 L57.62,1015.36 L57.66,1013.86 L57.7,1012.37 L57.74,1010.88 L57.79,1009.39 L57.83,1007.89 L57.87,1006.4 L57.92,1004.91 L57.97,1003.41 L58.01,1001.92 L58.06,1000.43 L58.12,998.93 L58.17,997.44 L58.22,995.94 L58.28,994.45 L58.34,992.95 L58.4,991.46 L58.46,989.96 L58.53,988.47 L58.6,986.97 L58.67,985.48 L58.74,983.98 L58.81,982.49 L58.89,980.99 L58.97,979.5 L59.06,978 L59.15,976.5 L59.24,975.01 L59.33,973.51 L59.43,972.01 L59.53,970.51 L59.63,969.02 L59.74,967.52 L59.85,966.02 L59.97,964.52 L60.09,963.03 L60.21,961.53 L60.34,960.03 L60.47,958.53 L60.61,957.03 L60.75,955.54 L60.9,954.04 L61.05,952.54 L61.21,951.04 L61.37,949.54 L61.53,948.04 L61.7,946.54 L61.88,945.04 L62.06,943.54 L62.25,942.04 L62.44,940.54 L62.64,939.04 L62.84,937.54 L63.05,936.04 L63.27,934.54 L63.49,933.04 L63.72,931.54 L63.95,930.04 L64.19,928.54 L64.44,927.04 L64.69,925.54 L64.95,924.04 L65.22,922.53 L65.5,921.03 L65.78,919.53 L66.06,918.03 L66.36,916.53 L66.66,915.03 L66.97,913.53 L67.29,912.03 L67.62,910.54 L67.95,909.04 L68.3,907.55 L68.65,906.06 L69.01,904.57 L69.39,903.09 L69.77,901.61 L70.16,900.14 L70.56,898.66 L70.97,897.2 L71.39,895.73 L71.82,894.28 L72.26,892.82 L72.71,891.38 L73.18,889.94 L73.65,888.5 L74.14,887.08 L74.64,885.65 L75.15,884.24 L75.67,882.84 L76.21,881.44 L76.75,880.05 L77.32,878.67 L77.89,877.29 L78.48,875.93 L79.08,874.58 L79.69,873.23 L80.32,871.9 L80.96,870.57 L81.62,869.26 L82.29,867.96 L82.97,866.66 L83.67,865.38 L84.39,864.12 L85.12,862.86 L85.87,861.62 L86.63,860.39 L87.41,859.17 L88.2,857.96 L89.01,856.77 L89.84,855.6 L90.69,854.43 L91.55,853.29 L92.43,852.15 L93.32,851.04 L94.24,849.94 L95.17,848.85 L96.12,847.78 L97.09,846.73 L98.07,845.69 L99.08,844.67 L100.1,843.67 L101.15,842.68 L102.21,841.71 L103.29,840.76 L104.38,839.83 L105.49,838.91 L106.62,838.01 L107.77,837.13 L108.93,836.26 L110.11,835.4 L111.3,834.57 L112.5,833.75 L113.72,832.94 L114.96,832.15 L116.2,831.38 L117.47,830.62 L118.74,829.87 L120.02,829.14 L121.32,828.43 L122.63,827.72 L123.95,827.04 L125.28,826.37 L126.62,825.71 L127.97,825.06 L129.33,824.43 L130.7,823.82 L132.08,823.21 L133.46,822.62 L134.86,822.04 L136.26,821.48 L137.67,820.93 L139.08,820.39 L140.5,819.86 L141.93,819.35 L143.37,818.85 L144.81,818.36 L146.26,817.88 L147.71,817.41 L149.17,816.96 L150.63,816.52 L152.1,816.09 L153.57,815.67 L155.04,815.26 L156.52,814.86 L158,814.47 L159.49,814.1 L160.98,813.73 L162.47,813.37 L163.96,813.03 L165.46,812.69 L166.95,812.36 L168.45,812.05 L169.95,811.74 L171.45,811.44 L172.95,811.15 L174.46,810.87 L175.96,810.6 L177.46,810.34 L178.96,810.09 L180.46,809.85 L181.96,809.61 L183.46,809.38 L184.96,809.16 L186.45,808.95 L187.95,808.74 L189.45,808.55 L190.94,808.36 L192.44,808.18 L193.93,808 L195.43,807.83 L196.92,807.67 L198.41,807.52 L199.91,807.37 L201.4,807.23 L202.89,807.09 L204.38,806.96 L205.87,806.84 L207.37,806.72 L208.86,806.61 L210.35,806.5 L211.84,806.4 L213.33,806.3 L214.81,806.21 L216.3,806.12 L217.79,806.04 L219.28,805.97 L220.77,805.89 L222.26,805.82 L223.74,805.76 L225.23,805.7 L226.72,805.64 L228.21,805.59 L229.69,805.54 L231.18,805.49 L232.67,805.45 L234.16,805.41 L235.64,805.37 L237.13,805.34 L238.62,805.31 L240.1,805.28 L241.59,805.25 L243.08,805.23 L244.56,805.2 L246.05,805.18 L247.54,805.16 L249.02,805.14 L250.51,805.13 L252,805.11 L253.49,805.1 L254.97,805.09 L256.46,805.07 L257.95,805.06 L259.44,805.05 L260.93,805.04 L262.41,805.03 L263.9,805.02 L265.39,805.01 L266.88,805 L268.37,804.99 L269.86,804.97 L271.35,804.96 L272.84,804.95 L274.33,804.93 L275.83,804.92 L277.32,804.9 L278.81,804.88 L280.3,804.86 L281.8,804.84 L283.29,804.81 L284.79,804.79 L286.28,804.76 L287.78,804.73 L289.27,804.7 L290.77,804.66 L292.26,804.62 L293.76,804.58 L295.26,804.53 L296.76,804.49 L298.26,804.44 L299.76,804.38 L301.26,804.32 L302.76,804.26 L304.26,804.19 L305.77,804.12 L307.27,804.05 L308.77,803.97 L310.28,803.88 L311.79,803.79 L313.29,803.7 L314.8,803.6" fill="none" stroke="#f4511e" stroke-width="1.7" stroke-linejoin="round" stroke-linecap="round" clip-path="url(#bA)"/>
<path d="M55.5,1073.4 L55.6,1071.94 L55.7,1070.49 L55.79,1069.03 L55.89,1067.57 L55.98,1066.11 L56.06,1064.64 L56.15,1063.18 L56.23,1061.71 L56.31,1060.25 L56.39,1058.78 L56.46,1057.31 L56.54,1055.84 L56.61,1054.36 L56.68,1052.89 L56.75,1051.41 L56.82,1049.94 L56.88,1048.46 L56.94,1046.98 L57.01,1045.5 L57.07,1044.02 L57.13,1042.53 L57.19,1041.05 L57.24,1039.56 L57.3,1038.08 L57.36,1036.59 L57.41,1035.1 L57.47,1033.61 L57.52,1032.12 L57.57,1030.63 L57.63,1029.14 L57.68,1027.64 L57.73,1026.15 L57.79,1024.65 L57.84,1023.16 L57.89,1021.66 L57.95,1020.16 L58,1018.67 L58.05,1017.17 L58.11,1015.67 L58.16,1014.17 L58.22,1012.66 L58.27,1011.16 L58.33,1009.66 L58.39,1008.16 L58.45,1006.65 L58.51,1005.15 L58.57,1003.65 L58.63,1002.14 L58.7,1000.63 L58.76,999.13 L58.83,997.62 L58.9,996.11 L58.97,994.61 L59.04,993.1 L59.12,991.59 L59.2,990.08 L59.27,988.58 L59.36,987.07 L59.44,985.56 L59.53,984.05 L59.61,982.54 L59.7,981.03 L59.8,979.52 L59.9,978.01 L59.99,976.5 L60.1,974.99 L60.2,973.48 L60.31,971.97 L60.42,970.46 L60.54,968.95 L60.66,967.44 L60.78,965.93 L60.91,964.42 L61.04,962.91 L61.17,961.4 L61.31,959.89 L61.45,958.39 L61.59,956.88 L61.74,955.37 L61.9,953.86 L62.06,952.35 L62.22,950.85 L62.39,949.34 L62.56,947.83 L62.73,946.33 L62.92,944.82 L63.1,943.32 L63.29,941.81 L63.49,940.31 L63.69,938.8 L63.9,937.3 L64.11,935.8 L64.33,934.3 L64.55,932.79 L64.78,931.29 L65.02,929.79 L65.26,928.29 L65.51,926.8 L65.76,925.3 L66.02,923.8 L66.29,922.31 L66.56,920.81 L66.84,919.32 L67.12,917.82 L67.41,916.33 L67.71,914.84 L68.02,913.35 L68.33,911.87 L68.66,910.38 L68.99,908.9 L69.33,907.42 L69.68,905.95 L70.04,904.48 L70.41,903.01 L70.79,901.55 L71.18,900.09 L71.58,898.64 L71.99,897.19 L72.42,895.75 L72.85,894.31 L73.3,892.88 L73.76,891.46 L74.24,890.04 L74.72,888.63 L75.22,887.23 L75.74,885.83 L76.27,884.44 L76.81,883.06 L77.37,881.69 L77.94,880.33 L78.53,878.97 L79.13,877.63 L79.75,876.29 L80.39,874.97 L81.04,873.65 L81.71,872.34 L82.4,871.05 L83.1,869.77 L83.82,868.49 L84.56,867.23 L85.31,865.98 L86.08,864.75 L86.87,863.52 L87.67,862.31 L88.49,861.11 L89.33,859.92 L90.18,858.75 L91.05,857.59 L91.94,856.45 L92.84,855.32 L93.76,854.2 L94.7,853.1 L95.65,852.02 L96.62,850.95 L97.6,849.89 L98.61,848.86 L99.63,847.83 L100.66,846.83 L101.71,845.84 L102.78,844.87 L103.86,843.91 L104.96,842.97 L106.08,842.05 L107.2,841.14 L108.35,840.25 L109.5,839.37 L110.67,838.51 L111.86,837.66 L113.06,836.83 L114.27,836.01 L115.49,835.21 L116.73,834.42 L117.97,833.65 L119.23,832.89 L120.5,832.14 L121.79,831.41 L123.08,830.69 L124.39,829.99 L125.7,829.3 L127.02,828.62 L128.36,827.96 L129.7,827.31 L131.06,826.67 L132.42,826.04 L133.79,825.43 L135.17,824.83 L136.56,824.25 L137.95,823.67 L139.35,823.11 L140.76,822.56 L142.18,822.02 L143.61,821.5 L145.04,820.98 L146.47,820.48 L147.91,819.99 L149.36,819.51 L150.81,819.04 L152.27,818.58 L153.73,818.13 L155.2,817.69 L156.67,817.27 L158.14,816.85 L159.62,816.45 L161.1,816.05 L162.59,815.67 L164.07,815.29 L165.56,814.92 L167.05,814.57 L168.55,814.22 L170.04,813.88 L171.53,813.55 L173.03,813.23 L174.53,812.92 L176.02,812.62 L177.52,812.33 L179.02,812.04 L180.51,811.77 L182.01,811.5 L183.51,811.24 L185,810.99 L186.5,810.74 L187.99,810.5 L189.48,810.27 L190.98,810.05 L192.47,809.84 L193.96,809.63 L195.46,809.43 L196.95,809.23 L198.44,809.05 L199.93,808.87 L201.42,808.69 L202.91,808.52 L204.41,808.36 L205.9,808.2 L207.39,808.05 L208.88,807.91 L210.37,807.77 L211.86,807.64 L213.35,807.51 L214.84,807.39 L216.32,807.27 L217.81,807.15 L219.3,807.04 L220.79,806.94 L222.28,806.84 L223.77,806.75 L225.26,806.65 L226.74,806.57 L228.23,806.48 L229.72,806.41 L231.21,806.33 L232.7,806.26 L234.19,806.19 L235.67,806.12 L237.16,806.06 L238.65,806 L240.14,805.94 L241.63,805.89 L243.11,805.84 L244.6,805.79 L246.09,805.74 L247.58,805.7 L249.07,805.65 L250.55,805.61 L252.04,805.57 L253.53,805.53 L255.02,805.5 L256.51,805.46 L258,805.43 L259.49,805.39 L260.98,805.36 L262.47,805.33 L263.96,805.3 L265.45,805.27 L266.94,805.24 L268.43,805.21 L269.92,805.18 L271.41,805.15 L272.9,805.12 L274.39,805.09 L275.88,805.05 L277.37,805.02 L278.87,804.99 L280.36,804.96 L281.85,804.92 L283.35,804.89 L284.84,804.85 L286.33,804.81 L287.83,804.77 L289.32,804.73 L290.82,804.68 L292.31,804.63 L293.81,804.59 L295.3,804.54 L296.8,804.48 L298.3,804.43 L299.8,804.37 L301.29,804.31 L302.79,804.24 L304.29,804.17 L305.79,804.1 L307.29,804.03 L308.79,803.95 L310.29,803.87 L311.79,803.78 L313.3,803.69 L314.8,803.6" fill="none" stroke="#008000" stroke-width="1.7" stroke-linejoin="round" stroke-linecap="round" clip-path="url(#bA)"/>
<path d="M55.5,1073.4 L55.63,1071.94 L55.77,1070.49 L55.89,1069.03 L56.02,1067.57 L56.14,1066.1 L56.26,1064.64 L56.38,1063.17 L56.49,1061.7 L56.6,1060.23 L56.71,1058.76 L56.82,1057.29 L56.92,1055.81 L57.03,1054.34 L57.13,1052.86 L57.22,1051.38 L57.32,1049.9 L57.42,1048.41 L57.51,1046.93 L57.6,1045.45 L57.69,1043.96 L57.78,1042.47 L57.87,1040.98 L57.96,1039.49 L58.04,1038 L58.13,1036.51 L58.21,1035.02 L58.3,1033.52 L58.38,1032.03 L58.47,1030.53 L58.55,1029.04 L58.64,1027.54 L58.72,1026.04 L58.8,1024.54 L58.89,1023.04 L58.98,1021.54 L59.06,1020.04 L59.15,1018.54 L59.24,1017.04 L59.32,1015.53 L59.41,1014.03 L59.5,1012.53 L59.6,1011.02 L59.69,1009.52 L59.78,1008.01 L59.88,1006.51 L59.98,1005 L60.08,1003.5 L60.18,1001.99 L60.29,1000.49 L60.39,998.98 L60.5,997.48 L60.62,995.97 L60.73,994.47 L60.85,992.96 L60.97,991.46 L61.09,989.95 L61.22,988.45 L61.35,986.94 L61.48,985.44 L61.61,983.93 L61.75,982.43 L61.9,980.93 L62.04,979.42 L62.19,977.92 L62.35,976.42 L62.51,974.92 L62.67,973.42 L62.84,971.92 L63.01,970.42 L63.19,968.92 L63.37,967.42 L63.56,965.93 L63.75,964.43 L63.95,962.94 L64.15,961.44 L64.36,959.95 L64.57,958.46 L64.79,956.97 L65.01,955.48 L65.24,953.99 L65.48,952.5 L65.72,951.01 L65.97,949.53 L66.22,948.04 L66.48,946.56 L66.75,945.08 L67.03,943.6 L67.31,942.12 L67.59,940.65 L67.89,939.17 L68.19,937.7 L68.5,936.23 L68.82,934.76 L69.14,933.29 L69.47,931.82 L69.81,930.36 L70.16,928.89 L70.51,927.43 L70.88,925.97 L71.25,924.51 L71.63,923.06 L72.02,921.61 L72.41,920.15 L72.82,918.7 L73.23,917.26 L73.66,915.81 L74.09,914.37 L74.53,912.93 L74.98,911.49 L75.44,910.06 L75.91,908.62 L76.39,907.19 L76.88,905.76 L77.38,904.34 L77.89,902.91 L78.4,901.49 L78.93,900.08 L79.47,898.67 L80.02,897.26 L80.58,895.86 L81.15,894.46 L81.74,893.07 L82.33,891.68 L82.93,890.3 L83.55,888.93 L84.17,887.56 L84.81,886.2 L85.46,884.84 L86.12,883.5 L86.8,882.16 L87.48,880.83 L88.18,879.51 L88.89,878.19 L89.61,876.89 L90.34,875.59 L91.09,874.31 L91.84,873.03 L92.61,871.77 L93.4,870.51 L94.2,869.27 L95.01,868.04 L95.83,866.82 L96.66,865.61 L97.51,864.41 L98.38,863.23 L99.26,862.06 L100.15,860.9 L101.05,859.76 L101.97,858.62 L102.9,857.51 L103.85,856.41 L104.81,855.32 L105.79,854.24 L106.78,853.19 L107.78,852.15 L108.8,851.12 L109.84,850.11 L110.89,849.12 L111.95,848.14 L113.03,847.18 L114.13,846.24 L115.24,845.32 L116.37,844.41 L117.51,843.52 L118.67,842.65 L119.85,841.8 L121.04,840.97 L122.24,840.15 L123.46,839.36 L124.69,838.57 L125.93,837.81 L127.19,837.06 L128.46,836.33 L129.74,835.61 L131.04,834.91 L132.34,834.23 L133.66,833.56 L134.99,832.9 L136.33,832.26 L137.68,831.63 L139.03,831.02 L140.4,830.42 L141.78,829.83 L143.17,829.26 L144.56,828.7 L145.96,828.15 L147.37,827.62 L148.79,827.09 L150.21,826.58 L151.64,826.08 L153.08,825.6 L154.52,825.12 L155.97,824.65 L157.42,824.19 L158.88,823.75 L160.34,823.31 L161.81,822.88 L163.28,822.47 L164.75,822.06 L166.23,821.66 L167.71,821.27 L169.19,820.89 L170.67,820.51 L172.16,820.14 L173.64,819.78 L175.13,819.43 L176.61,819.08 L178.1,818.74 L179.59,818.41 L181.07,818.09 L182.56,817.76 L184.04,817.45 L185.53,817.14 L187.01,816.84 L188.5,816.54 L189.98,816.25 L191.46,815.96 L192.95,815.68 L194.43,815.41 L195.91,815.14 L197.4,814.88 L198.88,814.62 L200.36,814.36 L201.84,814.11 L203.32,813.87 L204.81,813.63 L206.29,813.4 L207.77,813.17 L209.25,812.94 L210.73,812.72 L212.21,812.51 L213.69,812.3 L215.17,812.09 L216.65,811.89 L218.13,811.69 L219.61,811.49 L221.09,811.3 L222.57,811.11 L224.05,810.93 L225.53,810.75 L227.01,810.58 L228.5,810.4 L229.98,810.23 L231.46,810.07 L232.94,809.91 L234.42,809.75 L235.9,809.59 L237.38,809.44 L238.86,809.29 L240.34,809.14 L241.82,809 L243.3,808.86 L244.78,808.72 L246.26,808.58 L247.75,808.45 L249.23,808.31 L250.71,808.19 L252.19,808.06 L253.67,807.93 L255.16,807.81 L256.64,807.69 L258.12,807.57 L259.61,807.45 L261.09,807.34 L262.57,807.22 L264.06,807.11 L265.54,807 L267.03,806.89 L268.51,806.78 L270,806.67 L271.49,806.57 L272.97,806.46 L274.46,806.36 L275.95,806.25 L277.43,806.15 L278.92,806.05 L280.41,805.95 L281.9,805.85 L283.39,805.75 L284.88,805.65 L286.37,805.55 L287.86,805.45 L289.35,805.35 L290.84,805.25 L292.34,805.15 L293.83,805.05 L295.32,804.95 L296.82,804.85 L298.31,804.75 L299.81,804.65 L301.3,804.55 L302.8,804.45 L304.3,804.34 L305.8,804.24 L307.3,804.14 L308.8,804.03 L310.3,803.92 L311.8,803.82 L313.3,803.71 L314.8,803.6" fill="none" stroke="#1f77b4" stroke-width="1.7" stroke-linejoin="round" stroke-linecap="round" clip-path="url(#bA)"/>
<path d="M410,803.5 L410.8,803.8 L412,807.9 L413.2,808.2 L413.8,813.8 L416.1,813.5 L417.8,815.5 L419.3,816.7 L421.1,821.4 L423.1,821.6 L425.4,823.1 L428.4,824.9 L431.3,825.7 L434.2,827.2 L437.1,827.8 L440,828.3 L441.37,828.79 L442.75,829.27 L444.13,829.75 L445.51,830.23 L446.9,830.71 L448.29,831.19 L449.68,831.68 L451.07,832.16 L452.47,832.64 L453.86,833.12 L455.26,833.6 L456.66,834.08 L458.06,834.56 L459.47,835.04 L460.87,835.52 L462.28,836 L463.69,836.48 L465.1,836.97 L466.51,837.45 L467.93,837.94 L469.34,838.42 L470.75,838.91 L472.17,839.4 L473.59,839.89 L475,840.38 L476.42,840.88 L477.84,841.37 L479.26,841.87 L480.68,842.37 L482.1,842.87 L483.52,843.37 L484.93,843.87 L486.35,844.38 L487.77,844.89 L489.19,845.4 L490.61,845.91 L492.03,846.43 L493.45,846.95 L494.86,847.47 L496.28,848 L497.69,848.52 L499.11,849.05 L500.52,849.59 L501.93,850.13 L503.35,850.67 L504.76,851.21 L506.16,851.76 L507.57,852.31 L508.98,852.86 L510.38,853.42 L511.78,853.99 L513.18,854.55 L514.58,855.12 L515.98,855.7 L517.37,856.28 L518.76,856.86 L520.15,857.45 L521.54,858.04 L522.92,858.64 L524.3,859.24 L525.68,859.85 L527.06,860.46 L528.43,861.08 L529.8,861.7 L531.17,862.33 L532.53,862.96 L533.89,863.6 L535.25,864.24 L536.6,864.89 L537.95,865.55 L539.3,866.21 L540.64,866.88 L541.98,867.55 L543.32,868.23 L544.65,868.92 L545.98,869.61 L547.3,870.31 L548.62,871.01 L549.93,871.72 L551.24,872.44 L552.54,873.16 L553.84,873.9 L555.14,874.64 L556.43,875.38 L557.72,876.13 L559,876.89 L560.27,877.66 L561.54,878.44 L562.81,879.22 L564.06,880.01 L565.32,880.81 L566.57,881.61 L567.81,882.43 L569.04,883.25 L570.27,884.08 L571.5,884.92 L572.72,885.76 L573.93,886.62 L575.13,887.48 L576.33,888.35 L577.53,889.23 L578.71,890.12 L579.89,891.02 L581.07,891.92 L582.23,892.84 L583.39,893.76 L584.55,894.69 L585.69,895.63 L586.83,896.58 L587.97,897.54 L589.09,898.5 L590.21,899.47 L591.33,900.45 L592.43,901.44 L593.53,902.43 L594.62,903.44 L595.71,904.45 L596.79,905.46 L597.86,906.49 L598.93,907.52 L599.98,908.56 L601.03,909.61 L602.08,910.67 L603.12,911.73 L604.15,912.8 L605.17,913.88 L606.18,914.96 L607.19,916.05 L608.19,917.15 L609.19,918.26 L610.18,919.37 L611.15,920.49 L612.13,921.61 L613.09,922.74 L614.05,923.88 L615,925.03 L615.94,926.18 L616.88,927.34 L617.81,928.5 L618.73,929.68 L619.64,930.85 L620.55,932.04 L621.45,933.23 L622.34,934.42 L623.22,935.62 L624.1,936.83 L624.96,938.04 L625.83,939.26 L626.68,940.49 L627.52,941.72 L628.36,942.96 L629.19,944.2 L630.01,945.45 L630.83,946.7 L631.63,947.96 L632.43,949.22 L633.22,950.49 L634,951.77 L634.78,953.05 L635.55,954.33 L636.31,955.62 L637.06,956.92 L637.8,958.22 L638.53,959.52 L639.26,960.83 L639.98,962.15 L640.69,963.47 L641.39,964.79 L642.09,966.12 L642.77,967.45 L643.45,968.79 L644.12,970.13 L644.78,971.48 L645.44,972.83 L646.08,974.18 L646.72,975.54 L647.35,976.9 L647.97,978.27 L648.58,979.64 L649.18,981.02 L649.77,982.4 L650.36,983.78 L650.94,985.17 L651.51,986.56 L652.07,987.95 L652.62,989.35 L653.16,990.75 L653.7,992.15 L654.22,993.56 L654.74,994.97 L655.25,996.39 L655.75,997.81 L656.24,999.23 L656.72,1000.65 L657.2,1002.08 L657.66,1003.51 L658.12,1004.94 L658.56,1006.38 L659,1007.82 L659.43,1009.26 L659.85,1010.7 L660.26,1012.15 L660.67,1013.6 L661.06,1015.05 L661.44,1016.5 L661.82,1017.96 L662.18,1019.42 L662.54,1020.88 L662.89,1022.34 L663.23,1023.81 L663.56,1025.28 L663.88,1026.75 L664.19,1028.22 L664.49,1029.69 L664.78,1031.17 L665.07,1032.65 L665.34,1034.13 L665.6,1035.61 L665.86,1037.09 L666.1,1038.57 L666.34,1040.06 L666.57,1041.55 L666.78,1043.03 L666.99,1044.52 L667.19,1046.01 L667.38,1047.51 L667.56,1049 L667.73,1050.49 L667.89,1051.99 L668.04,1053.49 L668.18,1054.98 L668.31,1056.48 L668.43,1057.98 L668.54,1059.48 L668.64,1060.98 L668.73,1062.48 L668.81,1063.98 L668.89,1065.49 L668.95,1066.99 L669,1068.49 L669.04,1069.99 L669.07,1071.5 L669.1,1073" fill="none" stroke="#dc0a28" stroke-width="1.7" stroke-linejoin="round" stroke-linecap="round" clip-path="url(#bB)"/>
<path d="M410,803.5 L410.2,816.7 L411.1,816.7 L413.2,817.3 L414.3,818.1 L415.8,820.8 L417.6,823.1 L419,824.9 L421.4,825.7 L423.7,826.6 L426,827.2 L428.4,828.9 L431.3,830.4 L434.2,831.6 L437.7,832.7 L440,834 L441.36,834.55 L442.72,835.09 L444.08,835.63 L445.45,836.17 L446.82,836.7 L448.19,837.23 L449.57,837.76 L450.95,838.28 L452.34,838.8 L453.73,839.31 L455.12,839.83 L456.51,840.34 L457.91,840.85 L459.31,841.35 L460.71,841.86 L462.12,842.36 L463.52,842.86 L464.93,843.36 L466.35,843.85 L467.76,844.35 L469.18,844.84 L470.59,845.34 L472.01,845.83 L473.43,846.32 L474.86,846.81 L476.28,847.3 L477.7,847.79 L479.13,848.28 L480.56,848.77 L481.99,849.25 L483.42,849.74 L484.84,850.23 L486.27,850.72 L487.71,851.21 L489.14,851.7 L490.57,852.2 L492,852.69 L493.43,853.18 L494.86,853.68 L496.29,854.18 L497.72,854.67 L499.15,855.17 L500.58,855.68 L502.01,856.18 L503.44,856.69 L504.86,857.2 L506.29,857.71 L507.71,858.22 L509.14,858.74 L510.56,859.26 L511.98,859.78 L513.4,860.3 L514.81,860.83 L516.23,861.37 L517.64,861.9 L519.05,862.44 L520.46,862.99 L521.87,863.54 L523.27,864.09 L524.67,864.64 L526.07,865.21 L527.47,865.77 L528.86,866.34 L530.25,866.92 L531.64,867.5 L533.02,868.09 L534.4,868.68 L535.78,869.27 L537.15,869.88 L538.52,870.48 L539.89,871.1 L541.25,871.72 L542.61,872.35 L543.96,872.98 L545.31,873.62 L546.65,874.27 L547.99,874.92 L549.33,875.58 L550.66,876.25 L551.99,876.92 L553.31,877.61 L554.62,878.3 L555.93,878.99 L557.24,879.7 L558.54,880.41 L559.83,881.13 L561.12,881.86 L562.41,882.6 L563.68,883.35 L564.95,884.11 L566.22,884.87 L567.48,885.64 L568.73,886.43 L569.97,887.22 L571.21,888.02 L572.45,888.83 L573.67,889.65 L574.89,890.48 L576.1,891.33 L577.31,892.18 L578.5,893.04 L579.7,893.91 L580.88,894.79 L582.05,895.68 L583.22,896.58 L584.38,897.49 L585.54,898.41 L586.69,899.34 L587.83,900.28 L588.96,901.23 L590.08,902.19 L591.2,903.15 L592.31,904.13 L593.41,905.11 L594.51,906.11 L595.6,907.11 L596.68,908.12 L597.75,909.14 L598.82,910.17 L599.88,911.2 L600.93,912.25 L601.97,913.3 L603.01,914.36 L604.04,915.43 L605.06,916.51 L606.07,917.6 L607.08,918.69 L608.08,919.79 L609.07,920.9 L610.05,922.02 L611.03,923.14 L612,924.27 L612.96,925.41 L613.91,926.56 L614.86,927.71 L615.8,928.87 L616.73,930.04 L617.65,931.22 L618.56,932.4 L619.47,933.59 L620.37,934.78 L621.26,935.98 L622.15,937.19 L623.02,938.41 L623.89,939.63 L624.75,940.85 L625.6,942.09 L626.45,943.33 L627.29,944.57 L628.11,945.82 L628.94,947.08 L629.75,948.34 L630.56,949.61 L631.35,950.89 L632.14,952.17 L632.92,953.45 L633.7,954.74 L634.46,956.04 L635.22,957.34 L635.97,958.65 L636.71,959.96 L637.45,961.28 L638.17,962.6 L638.89,963.92 L639.6,965.25 L640.3,966.59 L641,967.93 L641.68,969.27 L642.36,970.62 L643.03,971.97 L643.69,973.33 L644.34,974.69 L644.99,976.06 L645.62,977.42 L646.25,978.8 L646.87,980.17 L647.48,981.56 L648.09,982.94 L648.68,984.33 L649.27,985.72 L649.85,987.11 L650.42,988.51 L650.98,989.91 L651.54,991.32 L652.08,992.73 L652.62,994.14 L653.15,995.55 L653.67,996.97 L654.18,998.39 L654.68,999.81 L655.18,1001.24 L655.66,1002.67 L656.14,1004.1 L656.61,1005.53 L657.07,1006.97 L657.52,1008.41 L657.97,1009.85 L658.4,1011.29 L658.83,1012.74 L659.25,1014.18 L659.66,1015.63 L660.06,1017.09 L660.45,1018.54 L660.84,1019.99 L661.21,1021.45 L661.58,1022.91 L661.94,1024.37 L662.29,1025.83 L662.63,1027.3 L662.96,1028.76 L663.28,1030.23 L663.6,1031.69 L663.9,1033.16 L664.2,1034.63 L664.49,1036.1 L664.77,1037.58 L665.04,1039.05 L665.3,1040.52 L665.55,1042 L665.8,1043.47 L666.03,1044.95 L666.26,1046.42 L666.48,1047.9 L666.69,1049.37 L666.88,1050.85 L667.08,1052.33 L667.26,1053.81 L667.43,1055.28 L667.59,1056.76 L667.75,1058.24 L667.89,1059.72 L668.03,1061.2 L668.16,1062.67 L668.28,1064.15 L668.39,1065.63 L668.49,1067.1 L668.58,1068.58 L668.66,1070.05 L668.74,1071.53 L668.8,1073" fill="none" stroke="#f4511e" stroke-width="1.7" stroke-linejoin="round" stroke-linecap="round" clip-path="url(#bB)"/>
<path d="M410,822.5 L410,865.7 L412,843 L413.2,837.7 L415.5,831.3 L417.3,830.1 L419,831.6 L421.4,830.4 L424.3,831.3 L427.2,831.9 L430.7,834.2 L434.2,835.1 L437.7,835.1 L440,835.3 L441.38,835.65 L442.76,836.04 L444.13,836.46 L445.51,836.91 L446.88,837.37 L448.26,837.85 L449.63,838.35 L451.01,838.84 L452.38,839.33 L453.76,839.82 L455.13,840.3 L456.5,840.78 L457.88,841.25 L459.25,841.72 L460.62,842.19 L462,842.67 L463.37,843.15 L464.74,843.64 L466.12,844.13 L467.49,844.64 L468.87,845.16 L470.24,845.69 L471.61,846.24 L472.99,846.8 L474.37,847.38 L475.74,847.97 L477.12,848.58 L478.49,849.19 L479.87,849.82 L481.25,850.45 L482.63,851.09 L484.01,851.74 L485.39,852.4 L486.77,853.05 L488.15,853.72 L489.53,854.38 L490.92,855.04 L492.3,855.7 L493.68,856.37 L495.07,857.02 L496.46,857.68 L497.85,858.33 L499.24,858.97 L500.63,859.61 L502.02,860.23 L503.41,860.85 L504.8,861.47 L506.2,862.07 L507.59,862.67 L508.99,863.27 L510.38,863.86 L511.78,864.44 L513.17,865.02 L514.57,865.6 L515.96,866.17 L517.36,866.74 L518.75,867.3 L520.14,867.87 L521.53,868.43 L522.92,868.99 L524.31,869.54 L525.7,870.1 L527.09,870.66 L528.47,871.22 L529.86,871.78 L531.24,872.34 L532.62,872.9 L533.99,873.46 L535.37,874.03 L536.74,874.59 L538.11,875.17 L539.47,875.74 L540.83,876.32 L542.19,876.9 L543.55,877.49 L544.9,878.08 L546.25,878.68 L547.6,879.29 L548.94,879.9 L550.27,880.52 L551.61,881.14 L552.94,881.78 L554.26,882.42 L555.58,883.07 L556.89,883.73 L558.2,884.4 L559.51,885.08 L560.81,885.77 L562.1,886.47 L563.39,887.19 L564.67,887.91 L565.95,888.65 L567.22,889.39 L568.48,890.16 L569.74,890.93 L570.99,891.72 L572.24,892.52 L573.48,893.33 L574.71,894.16 L575.94,895 L577.16,895.85 L578.37,896.71 L579.57,897.58 L580.77,898.47 L581.96,899.36 L583.14,900.27 L584.32,901.19 L585.48,902.12 L586.64,903.07 L587.79,904.02 L588.94,904.98 L590.07,905.96 L591.2,906.94 L592.32,907.94 L593.43,908.94 L594.53,909.96 L595.63,910.98 L596.71,912.02 L597.79,913.06 L598.86,914.12 L599.92,915.18 L600.97,916.25 L602.01,917.33 L603.04,918.42 L604.06,919.52 L605.07,920.63 L606.08,921.74 L607.07,922.87 L608.06,924 L609.03,925.14 L609.99,926.29 L610.95,927.44 L611.89,928.6 L612.83,929.77 L613.75,930.95 L614.67,932.14 L615.58,933.33 L616.48,934.53 L617.37,935.73 L618.25,936.94 L619.12,938.16 L619.98,939.38 L620.84,940.61 L621.68,941.85 L622.52,943.09 L623.35,944.34 L624.17,945.59 L624.99,946.85 L625.79,948.11 L626.59,949.38 L627.38,950.65 L628.17,951.93 L628.94,953.21 L629.71,954.5 L630.47,955.79 L631.23,957.09 L631.98,958.39 L632.72,959.69 L633.45,961 L634.18,962.31 L634.9,963.62 L635.61,964.94 L636.32,966.26 L637.02,967.59 L637.71,968.92 L638.4,970.25 L639.08,971.59 L639.75,972.93 L640.41,974.27 L641.07,975.62 L641.72,976.97 L642.37,978.32 L643.01,979.67 L643.64,981.03 L644.26,982.4 L644.88,983.76 L645.48,985.13 L646.09,986.5 L646.68,987.88 L647.27,989.26 L647.85,990.64 L648.42,992.02 L648.99,993.41 L649.55,994.8 L650.1,996.19 L650.64,997.59 L651.18,998.99 L651.71,1000.39 L652.23,1001.79 L652.75,1003.2 L653.26,1004.61 L653.76,1006.02 L654.25,1007.43 L654.74,1008.85 L655.22,1010.27 L655.69,1011.69 L656.16,1013.11 L656.61,1014.54 L657.06,1015.96 L657.51,1017.39 L657.94,1018.83 L658.37,1020.26 L658.79,1021.7 L659.2,1023.14 L659.61,1024.58 L660,1026.02 L660.39,1027.46 L660.78,1028.91 L661.15,1030.36 L661.52,1031.81 L661.88,1033.26 L662.23,1034.72 L662.58,1036.17 L662.92,1037.63 L663.25,1039.09 L663.57,1040.55 L663.88,1042.01 L664.19,1043.47 L664.49,1044.94 L664.78,1046.4 L665.06,1047.87 L665.34,1049.34 L665.61,1050.81 L665.87,1052.28 L666.12,1053.76 L666.37,1055.23 L666.61,1056.7 L666.84,1058.18 L667.06,1059.66 L667.27,1061.14 L667.48,1062.62 L667.68,1064.1 L667.87,1065.58 L668.05,1067.06 L668.22,1068.55 L668.39,1070.03 L668.55,1071.51 L668.7,1073" fill="none" stroke="#008000" stroke-width="1.7" stroke-linejoin="round" stroke-linecap="round" clip-path="url(#bB)"/>
<path d="M410,803.5 L410,844.7 L410.8,829.5 L411.7,843 L412.9,842.4 L414.3,841.2 L415.8,839.5 L418.1,838.9 L419.3,841.8 L420.8,845.9 L423.1,846.5 L424.9,850 L427.2,851.7 L428.9,853.5 L430.7,855.8 L433,856.1 L435.4,855.5 L437.7,858.1 L440,858.5 L441.37,858.94 L442.74,859.37 L444.11,859.8 L445.48,860.23 L446.85,860.65 L448.23,861.08 L449.61,861.51 L450.99,861.94 L452.37,862.37 L453.76,862.81 L455.14,863.25 L456.53,863.7 L457.92,864.15 L459.31,864.61 L460.7,865.08 L462.09,865.55 L463.48,866.03 L464.88,866.52 L466.27,867.01 L467.67,867.51 L469.06,868.01 L470.46,868.53 L471.86,869.04 L473.26,869.57 L474.66,870.1 L476.05,870.63 L477.45,871.17 L478.85,871.72 L480.25,872.27 L481.65,872.82 L483.05,873.38 L484.45,873.94 L485.85,874.51 L487.25,875.08 L488.65,875.65 L490.05,876.23 L491.44,876.81 L492.84,877.39 L494.24,877.97 L495.63,878.56 L497.03,879.15 L498.42,879.74 L499.81,880.33 L501.2,880.92 L502.59,881.51 L503.98,882.11 L505.37,882.71 L506.75,883.31 L508.14,883.91 L509.52,884.51 L510.9,885.11 L512.28,885.72 L513.66,886.33 L515.03,886.94 L516.41,887.56 L517.78,888.18 L519.15,888.8 L520.51,889.42 L521.88,890.05 L523.24,890.68 L524.6,891.31 L525.95,891.95 L527.31,892.59 L528.66,893.23 L530,893.88 L531.35,894.53 L532.69,895.19 L534.03,895.85 L535.37,896.52 L536.7,897.19 L538.03,897.86 L539.35,898.54 L540.67,899.23 L541.99,899.92 L543.31,900.61 L544.62,901.31 L545.92,902.02 L547.23,902.73 L548.53,903.45 L549.82,904.17 L551.11,904.9 L552.4,905.64 L553.68,906.38 L554.96,907.13 L556.23,907.88 L557.5,908.65 L558.76,909.41 L560.02,910.19 L561.27,910.97 L562.52,911.76 L563.76,912.56 L565,913.36 L566.24,914.17 L567.46,914.99 L568.69,915.82 L569.9,916.66 L571.12,917.5 L572.32,918.35 L573.52,919.21 L574.72,920.08 L575.91,920.96 L577.09,921.84 L578.27,922.74 L579.44,923.64 L580.6,924.55 L581.76,925.47 L582.91,926.4 L584.06,927.34 L585.2,928.28 L586.33,929.24 L587.46,930.2 L588.58,931.17 L589.69,932.14 L590.8,933.13 L591.9,934.12 L593,935.13 L594.09,936.13 L595.17,937.15 L596.25,938.18 L597.31,939.21 L598.38,940.25 L599.43,941.29 L600.48,942.35 L601.52,943.41 L602.56,944.48 L603.59,945.55 L604.61,946.64 L605.62,947.73 L606.63,948.82 L607.63,949.93 L608.62,951.04 L609.61,952.15 L610.59,953.28 L611.56,954.41 L612.52,955.54 L613.48,956.69 L614.43,957.84 L615.37,958.99 L616.31,960.16 L617.24,961.32 L618.16,962.5 L619.07,963.68 L619.98,964.86 L620.87,966.06 L621.76,967.25 L622.65,968.46 L623.52,969.67 L624.39,970.88 L625.25,972.1 L626.1,973.33 L626.94,974.56 L627.78,975.8 L628.61,977.04 L629.43,978.29 L630.24,979.54 L631.04,980.8 L631.84,982.06 L632.63,983.33 L633.41,984.6 L634.18,985.88 L634.94,987.16 L635.7,988.45 L636.45,989.74 L637.19,991.03 L637.92,992.33 L638.65,993.64 L639.36,994.95 L640.07,996.26 L640.78,997.58 L641.47,998.9 L642.16,1000.22 L642.84,1001.55 L643.51,1002.88 L644.18,1004.22 L644.84,1005.56 L645.49,1006.91 L646.14,1008.26 L646.77,1009.61 L647.4,1010.96 L648.02,1012.32 L648.64,1013.68 L649.25,1015.05 L649.85,1016.42 L650.45,1017.79 L651.03,1019.16 L651.62,1020.54 L652.19,1021.92 L652.76,1023.3 L653.32,1024.69 L653.87,1026.08 L654.42,1027.47 L654.96,1028.87 L655.5,1030.26 L656.03,1031.66 L656.55,1033.06 L657.06,1034.47 L657.57,1035.87 L658.07,1037.28 L658.57,1038.69 L659.06,1040.1 L659.54,1041.52 L660.02,1042.94 L660.49,1044.35 L660.96,1045.77 L661.42,1047.2 L661.87,1048.62 L662.32,1050.04 L662.76,1051.47 L663.2,1052.9 L663.63,1054.33 L664.05,1055.76 L664.47,1057.19 L664.88,1058.62 L665.29,1060.06 L665.69,1061.49 L666.08,1062.93 L666.47,1064.36 L666.86,1065.8 L667.24,1067.24 L667.61,1068.68 L667.98,1070.12 L668.34,1071.56 L668.7,1073" fill="none" stroke="#1f77b4" stroke-width="1.7" stroke-linejoin="round" stroke-linecap="round" clip-path="url(#bB)"/>
<path d="M55.5,1421.4 L314.4,1151.9" fill="none" stroke="#808080" stroke-width="1.7" stroke-linejoin="round" stroke-linecap="butt" stroke-dasharray="5.46,2.36" clip-path="url(#bC)"/>
<path d="M63.9,1413.1 L92.4,1381.8 L119.1,1353.4 L144.9,1324.9 L172.2,1298.5 L198.5,1275.4 L224.7,1247.6 L249.5,1213.5 L274.5,1183.9 L294.3,1166.4" fill="none" stroke="#dc0a28" stroke-width="1.7" stroke-linejoin="round" stroke-linecap="round" clip-path="url(#bC)"/>
<circle cx="63.9" cy="1413.1" r="3.4" fill="#dc0a28" clip-path="url(#bC)"/>
<circle cx="92.4" cy="1381.8" r="3.4" fill="#dc0a28" clip-path="url(#bC)"/>
<circle cx="119.1" cy="1353.4" r="3.4" fill="#dc0a28" clip-path="url(#bC)"/>
<circle cx="144.9" cy="1324.9" r="3.4" fill="#dc0a28" clip-path="url(#bC)"/>
<circle cx="172.2" cy="1298.5" r="3.4" fill="#dc0a28" clip-path="url(#bC)"/>
<circle cx="198.5" cy="1275.4" r="3.4" fill="#dc0a28" clip-path="url(#bC)"/>
<circle cx="224.7" cy="1247.6" r="3.4" fill="#dc0a28" clip-path="url(#bC)"/>
<circle cx="249.5" cy="1213.5" r="3.4" fill="#dc0a28" clip-path="url(#bC)"/>
<circle cx="274.5" cy="1183.9" r="3.4" fill="#dc0a28" clip-path="url(#bC)"/>
<circle cx="294.3" cy="1166.4" r="3.4" fill="#dc0a28" clip-path="url(#bC)"/>
<path d="M63.5,1414.7 L92.4,1387.3 L119.1,1362.8 L145.4,1332.1 L172.2,1299.8 L198.1,1263.8 L223.5,1231.8 L249.5,1206.1 L274.5,1185 L297.1,1168.2" fill="none" stroke="#f4511e" stroke-width="1.7" stroke-linejoin="round" stroke-linecap="round" clip-path="url(#bC)"/>
<circle cx="63.5" cy="1414.7" r="3.4" fill="#f4511e" clip-path="url(#bC)"/>
<circle cx="92.4" cy="1387.3" r="3.4" fill="#f4511e" clip-path="url(#bC)"/>
<circle cx="119.1" cy="1362.8" r="3.4" fill="#f4511e" clip-path="url(#bC)"/>
<circle cx="145.4" cy="1332.1" r="3.4" fill="#f4511e" clip-path="url(#bC)"/>
<circle cx="172.2" cy="1299.8" r="3.4" fill="#f4511e" clip-path="url(#bC)"/>
<circle cx="198.1" cy="1263.8" r="3.4" fill="#f4511e" clip-path="url(#bC)"/>
<circle cx="223.5" cy="1231.8" r="3.4" fill="#f4511e" clip-path="url(#bC)"/>
<circle cx="249.5" cy="1206.1" r="3.4" fill="#f4511e" clip-path="url(#bC)"/>
<circle cx="274.5" cy="1185" r="3.4" fill="#f4511e" clip-path="url(#bC)"/>
<circle cx="297.1" cy="1168.2" r="3.4" fill="#f4511e" clip-path="url(#bC)"/>
<path d="M63.5,1412.9 L92.4,1381.8 L119.7,1354.4 L145.4,1322.7 L171.95,1289.3 L198.5,1259.8 L223.5,1235.7 L249.5,1210.3 L274.5,1185.5 L297.1,1173.4" fill="none" stroke="#008000" stroke-width="1.7" stroke-linejoin="round" stroke-linecap="round" clip-path="url(#bC)"/>
<circle cx="63.5" cy="1412.9" r="3.4" fill="#008000" clip-path="url(#bC)"/>
<circle cx="92.4" cy="1381.8" r="3.4" fill="#008000" clip-path="url(#bC)"/>
<circle cx="119.7" cy="1354.4" r="3.4" fill="#008000" clip-path="url(#bC)"/>
<circle cx="145.4" cy="1322.7" r="3.4" fill="#008000" clip-path="url(#bC)"/>
<circle cx="171.95" cy="1289.3" r="3.4" fill="#008000" clip-path="url(#bC)"/>
<circle cx="198.5" cy="1259.8" r="3.4" fill="#008000" clip-path="url(#bC)"/>
<circle cx="223.5" cy="1235.7" r="3.4" fill="#008000" clip-path="url(#bC)"/>
<circle cx="249.5" cy="1210.3" r="3.4" fill="#008000" clip-path="url(#bC)"/>
<circle cx="274.5" cy="1185.5" r="3.4" fill="#008000" clip-path="url(#bC)"/>
<circle cx="297.1" cy="1173.4" r="3.4" fill="#008000" clip-path="url(#bC)"/>
<path d="M66.5,1411.8 L92.4,1388.8 L119.1,1352.9 L145.4,1317.2 L171.7,1285.2 L197.8,1262.1 L223.5,1244.1 L249.2,1226.6 L276.1,1212.6 L304.4,1196.7" fill="none" stroke="#1f77b4" stroke-width="1.7" stroke-linejoin="round" stroke-linecap="round" clip-path="url(#bC)"/>
<circle cx="66.5" cy="1411.8" r="3.4" fill="#1f77b4" clip-path="url(#bC)"/>
<circle cx="92.4" cy="1388.8" r="3.4" fill="#1f77b4" clip-path="url(#bC)"/>
<circle cx="119.1" cy="1352.9" r="3.4" fill="#1f77b4" clip-path="url(#bC)"/>
<circle cx="145.4" cy="1317.2" r="3.4" fill="#1f77b4" clip-path="url(#bC)"/>
<circle cx="171.7" cy="1285.2" r="3.4" fill="#1f77b4" clip-path="url(#bC)"/>
<circle cx="197.8" cy="1262.1" r="3.4" fill="#1f77b4" clip-path="url(#bC)"/>
<circle cx="223.5" cy="1244.1" r="3.4" fill="#1f77b4" clip-path="url(#bC)"/>
<circle cx="249.2" cy="1226.6" r="3.4" fill="#1f77b4" clip-path="url(#bC)"/>
<circle cx="276.1" cy="1212.6" r="3.4" fill="#1f77b4" clip-path="url(#bC)"/>
<circle cx="304.4" cy="1196.7" r="3.4" fill="#1f77b4" clip-path="url(#bC)"/>
<path d="M409.79,1212.7 L410.33,1214.12 L410.88,1215.52 L411.45,1216.9 L412.04,1218.28 L412.64,1219.65 L413.27,1221 L413.91,1222.34 L414.57,1223.68 L415.24,1225 L415.94,1226.31 L416.64,1227.61 L417.37,1228.9 L418.11,1230.18 L418.86,1231.45 L419.63,1232.71 L420.42,1233.96 L421.22,1235.2 L422.03,1236.43 L422.86,1237.65 L423.7,1238.87 L424.55,1240.07 L425.42,1241.27 L426.3,1242.45 L427.19,1243.63 L428.09,1244.8 L429.01,1245.96 L429.93,1247.12 L430.87,1248.26 L431.82,1249.4 L432.77,1250.53 L433.74,1251.65 L434.72,1252.77 L435.7,1253.88 L436.7,1254.98 L437.7,1256.07 L438.71,1257.16 L439.73,1258.24 L440.76,1259.31 L441.8,1260.38 L442.84,1261.44 L443.89,1262.5 L444.94,1263.55 L446,1264.59 L447.07,1265.63 L448.15,1266.67 L449.22,1267.7 L450.31,1268.72 L451.4,1269.74 L452.49,1270.75 L453.59,1271.76 L454.7,1272.76 L455.81,1273.76 L456.92,1274.75 L458.04,1275.74 L459.17,1276.72 L460.3,1277.7 L461.43,1278.67 L462.57,1279.64 L463.71,1280.61 L464.86,1281.57 L466.01,1282.52 L467.16,1283.48 L468.32,1284.43 L469.48,1285.37 L470.65,1286.31 L471.82,1287.25 L473,1288.18 L474.17,1289.11 L475.35,1290.03 L476.54,1290.96 L477.72,1291.87 L478.91,1292.79 L480.11,1293.7 L481.3,1294.61 L482.5,1295.52 L483.7,1296.42 L484.91,1297.32 L486.11,1298.21 L487.32,1299.11 L488.53,1300 L489.75,1300.88 L490.96,1301.77 L492.18,1302.65 L493.4,1303.53 L494.62,1304.41 L495.85,1305.28 L497.07,1306.16 L498.3,1307.03 L499.53,1307.9 L500.76,1308.76 L501.99,1309.63 L503.22,1310.49 L504.45,1311.35 L505.69,1312.21 L506.92,1313.07 L508.16,1313.92 L509.39,1314.78 L510.63,1315.63 L511.87,1316.48 L513.11,1317.33 L514.34,1318.18 L515.58,1319.03 L516.82,1319.87 L518.06,1320.72 L519.3,1321.56 L520.54,1322.41 L521.78,1323.25 L523.02,1324.09 L524.25,1324.93 L525.49,1325.77 L526.73,1326.61 L527.97,1327.45 L529.21,1328.29 L530.44,1329.13 L531.68,1329.97 L532.92,1330.81 L534.15,1331.64 L535.39,1332.48 L536.63,1333.32 L537.86,1334.15 L539.1,1334.99 L540.33,1335.83 L541.57,1336.66 L542.8,1337.5 L544.04,1338.34 L545.27,1339.17 L546.51,1340.01 L547.74,1340.85 L548.97,1341.68 L550.2,1342.52 L551.44,1343.36 L552.67,1344.2 L553.9,1345.04 L555.13,1345.87 L556.36,1346.71 L557.59,1347.55 L558.82,1348.4 L560.05,1349.24 L561.28,1350.08 L562.5,1350.92 L563.73,1351.77 L564.96,1352.61 L566.18,1353.46 L567.41,1354.3 L568.64,1355.15 L569.86,1356 L571.08,1356.85 L572.31,1357.7 L573.53,1358.55 L574.75,1359.4 L575.97,1360.26 L577.19,1361.11 L578.42,1361.97 L579.63,1362.83 L580.85,1363.69 L582.07,1364.55 L583.29,1365.42 L584.51,1366.28 L585.72,1367.15 L586.94,1368.02 L588.15,1368.89 L589.36,1369.76 L590.58,1370.63 L591.79,1371.51 L593,1372.39 L594.21,1373.27 L595.42,1374.15 L596.63,1375.03 L597.84,1375.92 L599.05,1376.81 L600.25,1377.7 L601.46,1378.59 L602.66,1379.49 L603.86,1380.38 L605.06,1381.29 L606.26,1382.19 L607.46,1383.1 L608.65,1384.01 L609.84,1384.92 L611.03,1385.84 L612.22,1386.76 L613.4,1387.69 L614.57,1388.62 L615.75,1389.56 L616.91,1390.5 L618.08,1391.44 L619.23,1392.39 L620.39,1393.35 L621.53,1394.31 L622.67,1395.28 L623.81,1396.25 L624.93,1397.23 L626.05,1398.22 L627.17,1399.21 L628.27,1400.21 L629.37,1401.21 L630.46,1402.22 L631.54,1403.24 L632.62,1404.27 L633.68,1405.31 L634.74,1406.35 L635.78,1407.4 L636.82,1408.46 L637.85,1409.52 L638.86,1410.6 L639.87,1411.68 L640.87,1412.78 L641.85,1413.88 L642.82,1414.99 L643.78,1416.11 L644.73,1417.24 L645.67,1418.38 L646.59,1419.53 L647.5,1420.7 L648.4,1421.87 L649.29,1423.05 L650.16,1424.24 L651.02,1425.45 L651.86,1426.66 L652.69,1427.89 L653.5,1429.12 L654.3,1430.37 L655.08,1431.64 L655.85,1432.91 L656.61,1434.2 L658.5,1442 L667,1442 L667.5,1434.2 L669.3,1393" fill="none" stroke="#1f77b4" stroke-width="1.7" stroke-linejoin="round" stroke-linecap="round" clip-path="url(#bD)"/>
<path d="M409.9,1212.84 L411.02,1215.75 L412.14,1218.68 L413.27,1221.64 L414.39,1224.62 L415.51,1227.63 L416.63,1230.67 L417.76,1233.73 L418.88,1236.82 L420,1239.94 L421.12,1243.09 L422.25,1246.27 L423.37,1249.47 L424.49,1252.71 L425.61,1255.97 L426.73,1259.27 L427.86,1262.59 L428.98,1265.95 L430.1,1269.33 L431.22,1272.75 L432.35,1276.21 L433.47,1279.69 L434.59,1283.21 L435.71,1286.76 L436.84,1290.35 L437.96,1293.97 L439.08,1297.63 L440.2,1301.32 L441.33,1305.05 L442.45,1308.82 L443.57,1312.62 L444.69,1316.46 L445.81,1320.35 L446.94,1324.27 L448.06,1328.22 L449.18,1332.23 L450.3,1336.27 L451.43,1340.35 L452.55,1344.47 L453.67,1348.64 L454.79,1352.86 L455.92,1357.11 L457.04,1361.41 L458.16,1365.76 L459.28,1370.16 L460.4,1374.6 L461.53,1379.09 L462.65,1383.62 L463.77,1388.21 L464.89,1392.85 L466.02,1397.54 L467.14,1402.28 L468.26,1407.08 L469.38,1411.93 L470.51,1416.83 L471.63,1421.79 L472.75,1426.8 L473.87,1431.88 L475,1437.01 L476.12,1442.2 L477.24,1447.46" fill="none" stroke="#ff7f0e" stroke-width="1.7" stroke-linejoin="round" stroke-linecap="butt" stroke-dasharray="1.47,2.43" clip-path="url(#bD)"/>
<path d="M409.9,1392.81 L668.9,1392.81" fill="none" stroke="#2ca02c" stroke-width="1.7" stroke-linejoin="round" stroke-linecap="butt" stroke-dasharray="9.44,2.36,1.47,2.36" clip-path="url(#bD)"/>
<path d="M409.8,1212.7 L410.48,1214.03 L411.19,1215.34 L411.91,1216.64 L412.65,1217.93 L413.41,1219.21 L414.19,1220.47 L414.98,1221.72 L415.79,1222.96 L416.61,1224.19 L417.45,1225.41 L418.31,1226.61 L419.18,1227.8 L420.07,1228.99 L420.97,1230.16 L421.88,1231.32 L422.81,1232.47 L423.75,1233.61 L424.71,1234.74 L425.68,1235.85 L426.66,1236.96 L427.66,1238.06 L428.67,1239.15 L429.69,1240.23 L430.72,1241.3 L431.76,1242.36 L432.82,1243.41 L433.88,1244.45 L434.96,1245.48 L436.04,1246.5 L437.14,1247.52 L438.24,1248.52 L439.36,1249.52 L440.48,1250.51 L441.62,1251.49 L442.76,1252.47 L443.91,1253.43 L445.07,1254.39 L446.23,1255.34 L447.4,1256.28 L448.58,1257.22 L449.77,1258.15 L450.97,1259.07 L452.16,1259.98 L453.37,1260.89 L454.58,1261.79 L455.8,1262.69 L457.02,1263.57 L458.25,1264.46 L459.48,1265.33 L460.71,1266.2 L461.95,1267.07 L463.19,1267.93 L464.44,1268.78 L465.69,1269.63 L466.94,1270.47 L468.19,1271.31 L469.45,1272.15 L470.71,1272.98 L471.97,1273.8 L473.24,1274.62 L474.51,1275.44 L475.78,1276.25 L477.05,1277.06 L478.32,1277.86 L479.6,1278.66 L480.88,1279.46 L482.16,1280.25 L483.44,1281.04 L484.73,1281.83 L486.01,1282.62 L487.3,1283.4 L488.59,1284.18 L489.88,1284.95 L491.17,1285.73 L492.46,1286.5 L493.75,1287.27 L495.05,1288.04 L496.34,1288.8 L497.64,1289.57 L498.93,1290.33 L500.23,1291.09 L501.52,1291.85 L502.82,1292.61 L504.12,1293.37 L505.42,1294.13 L506.71,1294.89 L508.01,1295.64 L509.31,1296.4 L510.6,1297.15 L511.9,1297.91 L513.19,1298.67 L514.49,1299.42 L515.78,1300.18 L517.08,1300.94 L518.37,1301.69 L519.66,1302.45 L520.95,1303.21 L522.24,1303.97 L523.53,1304.73 L524.82,1305.5 L526.1,1306.26 L527.38,1307.03 L528.67,1307.8 L529.95,1308.57 L531.22,1309.34 L532.5,1310.11 L533.78,1310.89 L535.05,1311.67 L536.32,1312.45 L537.58,1313.24 L538.85,1314.03 L540.11,1314.82 L541.37,1315.61 L542.63,1316.41 L543.89,1317.2 L545.14,1318.01 L546.39,1318.81 L547.64,1319.62 L548.89,1320.43 L550.14,1321.24 L551.38,1322.05 L552.62,1322.87 L553.86,1323.69 L555.1,1324.51 L556.34,1325.34 L557.57,1326.17 L558.81,1327 L560.04,1327.83 L561.27,1328.67 L562.5,1329.5 L563.73,1330.34 L564.95,1331.19 L566.18,1332.03 L567.4,1332.88 L568.63,1333.73 L569.85,1334.58 L571.07,1335.43 L572.29,1336.29 L573.51,1337.15 L574.72,1338.01 L575.94,1338.87 L577.15,1339.73 L578.37,1340.6 L579.58,1341.47 L580.8,1342.34 L582.01,1343.22 L583.22,1344.09 L584.43,1344.97 L585.64,1345.85 L586.85,1346.73 L588.06,1347.61 L589.27,1348.5 L590.48,1349.39 L591.69,1350.28 L592.89,1351.17 L594.1,1352.06 L595.31,1352.95 L596.52,1353.85 L597.72,1354.75 L598.93,1355.65 L600.14,1356.55 L601.34,1357.46 L602.55,1358.36 L603.76,1359.27 L604.97,1360.18 L606.17,1361.09 L607.38,1362 L608.59,1362.91 L609.8,1363.83 L611.01,1364.75 L612.22,1365.66 L613.43,1366.58 L614.64,1367.49 L615.86,1368.41 L617.07,1369.32 L618.29,1370.23 L619.51,1371.13 L620.74,1372.03 L621.97,1372.93 L623.2,1373.82 L624.43,1374.7 L625.67,1375.58 L626.91,1376.45 L628.16,1377.31 L629.41,1378.16 L630.66,1379 L631.92,1379.84 L633.19,1380.66 L634.46,1381.47 L635.74,1382.27 L637.03,1383.06 L638.32,1383.83 L639.61,1384.59 L640.92,1385.34 L642.23,1386.07 L643.55,1386.78 L644.88,1387.46 L646.21,1388.12 L647.56,1388.75 L648.91,1389.34 L650.27,1389.91 L651.64,1390.43 L653.02,1390.91 L654.41,1391.35 L655.81,1391.74 L657.22,1392.07 L658.64,1392.36 L660.07,1392.59 L661.51,1392.76 L662.97,1392.86 L664.43,1392.9 L665.91,1392.87 L667.4,1392.77 L668.9,1392.6" fill="none" stroke="#dc0a28" stroke-width="1.7" stroke-linejoin="round" stroke-linecap="round" clip-path="url(#bD)"/>
<path d="M409.8,1212.7 L410.46,1214.09 L411.15,1215.47 L411.85,1216.83 L412.57,1218.17 L413.31,1219.5 L414.06,1220.81 L414.84,1222.11 L415.63,1223.39 L416.43,1224.66 L417.25,1225.91 L418.09,1227.15 L418.94,1228.38 L419.81,1229.59 L420.7,1230.79 L421.59,1231.97 L422.5,1233.14 L423.43,1234.3 L424.37,1235.44 L425.32,1236.58 L426.29,1237.69 L427.27,1238.8 L428.26,1239.9 L429.27,1240.98 L430.28,1242.05 L431.31,1243.11 L432.35,1244.16 L433.4,1245.2 L434.46,1246.23 L435.53,1247.25 L436.62,1248.25 L437.71,1249.25 L438.81,1250.24 L439.92,1251.21 L441.04,1252.18 L442.17,1253.14 L443.31,1254.09 L444.45,1255.03 L445.61,1255.96 L446.77,1256.89 L447.94,1257.8 L449.11,1258.71 L450.3,1259.61 L451.48,1260.5 L452.68,1261.38 L453.88,1262.26 L455.09,1263.13 L456.3,1263.99 L457.52,1264.85 L458.74,1265.7 L459.97,1266.55 L461.2,1267.38 L462.44,1268.22 L463.68,1269.04 L464.93,1269.87 L466.18,1270.68 L467.44,1271.49 L468.7,1272.3 L469.96,1273.11 L471.23,1273.9 L472.5,1274.7 L473.77,1275.49 L475.05,1276.28 L476.33,1277.06 L477.61,1277.84 L478.9,1278.62 L480.18,1279.39 L481.47,1280.17 L482.76,1280.94 L484.06,1281.71 L485.35,1282.47 L486.65,1283.24 L487.95,1284 L489.24,1284.76 L490.54,1285.52 L491.85,1286.28 L493.15,1287.04 L494.45,1287.8 L495.75,1288.56 L497.05,1289.31 L498.36,1290.07 L499.66,1290.83 L500.96,1291.59 L502.26,1292.35 L503.56,1293.11 L504.86,1293.87 L506.16,1294.64 L507.46,1295.4 L508.75,1296.17 L510.05,1296.94 L511.34,1297.71 L512.63,1298.49 L513.92,1299.26 L515.21,1300.04 L516.49,1300.83 L517.77,1301.61 L519.05,1302.4 L520.33,1303.2 L521.6,1304 L522.87,1304.8 L524.13,1305.6 L525.4,1306.41 L526.66,1307.23 L527.91,1308.05 L529.16,1308.88 L530.41,1309.71 L531.65,1310.54 L532.89,1311.38 L534.12,1312.23 L535.35,1313.08 L536.58,1313.93 L537.81,1314.79 L539.03,1315.66 L540.24,1316.52 L541.46,1317.39 L542.67,1318.27 L543.88,1319.15 L545.09,1320.03 L546.29,1320.92 L547.49,1321.8 L548.69,1322.7 L549.89,1323.59 L551.08,1324.49 L552.27,1325.39 L553.46,1326.29 L554.65,1327.2 L555.84,1328.11 L557.02,1329.02 L558.21,1329.93 L559.39,1330.85 L560.57,1331.76 L561.75,1332.68 L562.92,1333.6 L564.1,1334.52 L565.28,1335.45 L566.45,1336.37 L567.63,1337.29 L568.8,1338.22 L569.97,1339.15 L571.15,1340.08 L572.32,1341 L573.49,1341.93 L574.66,1342.86 L575.84,1343.79 L577.01,1344.72 L578.18,1345.65 L579.36,1346.58 L580.53,1347.51 L581.7,1348.44 L582.88,1349.37 L584.05,1350.29 L585.23,1351.22 L586.41,1352.15 L587.59,1353.07 L588.77,1353.99 L589.95,1354.92 L591.13,1355.84 L592.32,1356.76 L593.5,1357.67 L594.69,1358.59 L595.88,1359.5 L597.07,1360.41 L598.26,1361.32 L599.46,1362.23 L600.66,1363.13 L601.86,1364.04 L603.06,1364.93 L604.27,1365.83 L605.48,1366.72 L606.69,1367.61 L607.9,1368.5 L609.12,1369.38 L610.34,1370.26 L611.56,1371.14 L612.79,1372.01 L614.02,1372.87 L615.26,1373.73 L616.5,1374.58 L617.74,1375.42 L618.99,1376.25 L620.24,1377.08 L621.5,1377.89 L622.76,1378.68 L624.03,1379.47 L625.31,1380.24 L626.59,1381 L627.88,1381.74 L629.17,1382.46 L630.47,1383.17 L631.78,1383.86 L633.09,1384.53 L634.41,1385.18 L635.74,1385.81 L637.08,1386.42 L638.43,1387 L639.78,1387.57 L641.14,1388.1 L642.51,1388.62 L643.89,1389.11 L645.28,1389.57 L646.67,1390 L648.08,1390.4 L649.5,1390.78 L650.92,1391.12 L652.36,1391.44 L653.81,1391.72 L655.27,1391.97 L656.73,1392.19 L658.21,1392.37 L659.71,1392.52 L661.21,1392.63 L662.72,1392.7 L664.25,1392.73 L665.79,1392.73 L667.34,1392.69 L668.9,1392.6" fill="none" stroke="#f4511e" stroke-width="1.7" stroke-linejoin="round" stroke-linecap="round" clip-path="url(#bD)"/>
<path d="M409.79,1212.7 L410.45,1214.11 L411.12,1215.51 L411.81,1216.88 L412.51,1218.24 L413.24,1219.58 L413.98,1220.91 L414.74,1222.21 L415.51,1223.51 L416.3,1224.78 L417.11,1226.04 L417.93,1227.28 L418.77,1228.51 L419.63,1229.72 L420.5,1230.92 L421.38,1232.11 L422.28,1233.28 L423.19,1234.43 L424.12,1235.57 L425.06,1236.7 L426.01,1237.82 L426.97,1238.92 L427.95,1240.01 L428.94,1241.09 L429.95,1242.16 L430.96,1243.21 L431.99,1244.26 L433.02,1245.29 L434.07,1246.31 L435.13,1247.32 L436.2,1248.32 L437.28,1249.31 L438.37,1250.29 L439.47,1251.27 L440.57,1252.23 L441.69,1253.18 L442.81,1254.13 L443.95,1255.07 L445.09,1256 L446.24,1256.92 L447.39,1257.83 L448.55,1258.74 L449.72,1259.64 L450.9,1260.54 L452.08,1261.42 L453.27,1262.31 L454.47,1263.18 L455.67,1264.05 L456.87,1264.92 L458.08,1265.78 L459.29,1266.64 L460.51,1267.49 L461.73,1268.34 L462.96,1269.18 L464.19,1270.02 L465.42,1270.86 L466.65,1271.7 L467.89,1272.53 L469.13,1273.36 L470.37,1274.18 L471.62,1275.01 L472.87,1275.83 L474.12,1276.65 L475.37,1277.47 L476.63,1278.28 L477.88,1279.09 L479.14,1279.9 L480.4,1280.71 L481.66,1281.52 L482.93,1282.33 L484.19,1283.13 L485.46,1283.93 L486.73,1284.73 L487.99,1285.53 L489.26,1286.33 L490.53,1287.13 L491.81,1287.93 L493.08,1288.72 L494.35,1289.52 L495.63,1290.32 L496.9,1291.11 L498.17,1291.91 L499.45,1292.7 L500.72,1293.49 L502,1294.29 L503.27,1295.08 L504.54,1295.88 L505.82,1296.67 L507.09,1297.47 L508.36,1298.27 L509.64,1299.06 L510.91,1299.86 L512.18,1300.66 L513.45,1301.46 L514.72,1302.26 L515.98,1303.06 L517.25,1303.86 L518.51,1304.67 L519.78,1305.48 L521.04,1306.28 L522.3,1307.09 L523.55,1307.91 L524.81,1308.72 L526.06,1309.54 L527.32,1310.35 L528.57,1311.17 L529.81,1312 L531.06,1312.82 L532.3,1313.65 L533.54,1314.48 L534.77,1315.32 L536.01,1316.15 L537.24,1316.99 L538.47,1317.84 L539.69,1318.68 L540.91,1319.53 L542.13,1320.38 L543.35,1321.24 L544.56,1322.09 L545.78,1322.95 L546.99,1323.82 L548.19,1324.68 L549.4,1325.55 L550.6,1326.42 L551.81,1327.29 L553.01,1328.16 L554.2,1329.03 L555.4,1329.91 L556.6,1330.79 L557.79,1331.67 L558.98,1332.55 L560.18,1333.44 L561.37,1334.32 L562.56,1335.21 L563.75,1336.1 L564.93,1336.99 L566.12,1337.88 L567.31,1338.77 L568.49,1339.66 L569.68,1340.55 L570.87,1341.45 L572.05,1342.34 L573.24,1343.24 L574.42,1344.13 L575.61,1345.03 L576.79,1345.93 L577.98,1346.82 L579.16,1347.72 L580.35,1348.62 L581.54,1349.52 L582.72,1350.41 L583.91,1351.31 L585.1,1352.21 L586.29,1353.11 L587.48,1354 L588.68,1354.9 L589.87,1355.8 L591.07,1356.69 L592.26,1357.58 L593.46,1358.48 L594.66,1359.37 L595.86,1360.26 L597.07,1361.16 L598.27,1362.05 L599.48,1362.93 L600.69,1363.82 L601.9,1364.71 L603.11,1365.59 L604.33,1366.48 L605.55,1367.36 L606.77,1368.24 L607.99,1369.12 L609.22,1369.99 L610.45,1370.87 L611.68,1371.74 L612.92,1372.61 L614.16,1373.47 L615.4,1374.33 L616.65,1375.18 L617.9,1376.03 L619.15,1376.87 L620.41,1377.7 L621.67,1378.52 L622.93,1379.33 L624.2,1380.13 L625.47,1380.92 L626.75,1381.7 L628.03,1382.47 L629.31,1383.22 L630.6,1383.96 L631.9,1384.68 L633.19,1385.39 L634.5,1386.08 L635.81,1386.76 L637.12,1387.41 L638.44,1388.05 L639.76,1388.67 L641.09,1389.27 L642.42,1389.84 L643.76,1390.4 L645.11,1390.93 L646.46,1391.44 L647.81,1391.92 L649.17,1392.39 L650.54,1392.82 L651.91,1393.22 L653.29,1393.59 L654.68,1393.91 L656.07,1394.17 L657.47,1394.37 L658.88,1394.49 L660.29,1394.54 L661.71,1394.49 L663.13,1394.34 L664.56,1394.09 L666,1393.72 L667.45,1393.23 L668.9,1392.6" fill="none" stroke="#008000" stroke-width="1.7" stroke-linejoin="round" stroke-linecap="round" clip-path="url(#bD)"/>
<rect x="42.6" y="19" width="281" height="296.6" fill="none" stroke="#000000" stroke-width="1.0"/>
<path d="M55.4,315.6 V319.04 M106.52,315.6 V319.04 M157.64,315.6 V319.04 M208.76,315.6 V319.04 M259.88,315.6 V319.04 M311,315.6 V319.04 M42.6,302.2 H39.16 M42.6,248.26 H39.16 M42.6,194.32 H39.16 M42.6,140.38 H39.16 M42.6,86.44 H39.16 M42.6,32.5 H39.16 " stroke="#000000" stroke-width="1.0" fill="none"/>
<text x="46.26" y="331.5" font-size="12.51" textLength="18.21" lengthAdjust="spacingAndGlyphs" fill="#000000" stroke="#000000" stroke-width="0.15">0.0</text>
<text x="97.39" y="331.5" font-size="12.51" textLength="17.98" lengthAdjust="spacingAndGlyphs" fill="#000000" stroke="#000000" stroke-width="0.15">0.2</text>
<text x="148.5" y="331.5" font-size="12.51" textLength="18.27" lengthAdjust="spacingAndGlyphs" fill="#000000" stroke="#000000" stroke-width="0.15">0.4</text>
<text x="199.62" y="331.5" font-size="12.51" textLength="18.34" lengthAdjust="spacingAndGlyphs" fill="#000000" stroke="#000000" stroke-width="0.15">0.6</text>
<text x="250.74" y="331.5" font-size="12.51" textLength="18.28" lengthAdjust="spacingAndGlyphs" fill="#000000" stroke="#000000" stroke-width="0.15">0.8</text>
<text x="301.94" y="331.5" font-size="12.51" textLength="18.13" lengthAdjust="spacingAndGlyphs" fill="#000000" stroke="#000000" stroke-width="0.15">1.0</text>
<text x="17.28" y="306.5" font-size="12.51" textLength="18.21" lengthAdjust="spacingAndGlyphs" fill="#000000" stroke="#000000" stroke-width="0.15">0.0</text>
<text x="17.28" y="252.56" font-size="12.51" textLength="17.98" lengthAdjust="spacingAndGlyphs" fill="#000000" stroke="#000000" stroke-width="0.15">0.2</text>
<text x="17.27" y="198.62" font-size="12.51" textLength="18.27" lengthAdjust="spacingAndGlyphs" fill="#000000" stroke="#000000" stroke-width="0.15">0.4</text>
<text x="17.27" y="144.68" font-size="12.51" textLength="18.34" lengthAdjust="spacingAndGlyphs" fill="#000000" stroke="#000000" stroke-width="0.15">0.6</text>
<text x="17.27" y="90.74" font-size="12.51" textLength="18.28" lengthAdjust="spacingAndGlyphs" fill="#000000" stroke="#000000" stroke-width="0.15">0.8</text>
<text x="17.35" y="36.8" font-size="12.51" textLength="18.13" lengthAdjust="spacingAndGlyphs" fill="#000000" stroke="#000000" stroke-width="0.15">1.0</text>
<text x="129.53" y="346.6" font-size="12.51" textLength="107.26" lengthAdjust="spacingAndGlyphs" fill="#000000" stroke="#000000" stroke-width="0.15">False positive rate</text>
<text transform="translate(10.7,167.5) rotate(-90)" x="-51.42" y="0" font-size="12.51" textLength="103.16" lengthAdjust="spacingAndGlyphs" fill="#000000" stroke="#000000" stroke-width="0.15">True positive rate</text>
<rect x="401.3" y="19" width="280.3" height="296.6" fill="none" stroke="#000000" stroke-width="1.0"/>
<path d="M413.5,315.6 V319.04 M464.62,315.6 V319.04 M515.74,315.6 V319.04 M566.86,315.6 V319.04 M617.98,315.6 V319.04 M669.1,315.6 V319.04 M401.3,308.2 H397.86 M401.3,253.04 H397.86 M401.3,197.88 H397.86 M401.3,142.72 H397.86 M401.3,87.56 H397.86 M401.3,32.4 H397.86 " stroke="#000000" stroke-width="1.0" fill="none"/>
<text x="404.36" y="331.5" font-size="12.51" textLength="18.21" lengthAdjust="spacingAndGlyphs" fill="#000000" stroke="#000000" stroke-width="0.15">0.0</text>
<text x="455.49" y="331.5" font-size="12.51" textLength="17.98" lengthAdjust="spacingAndGlyphs" fill="#000000" stroke="#000000" stroke-width="0.15">0.2</text>
<text x="506.6" y="331.5" font-size="12.51" textLength="18.27" lengthAdjust="spacingAndGlyphs" fill="#000000" stroke="#000000" stroke-width="0.15">0.4</text>
<text x="557.72" y="331.5" font-size="12.51" textLength="18.34" lengthAdjust="spacingAndGlyphs" fill="#000000" stroke="#000000" stroke-width="0.15">0.6</text>
<text x="608.84" y="331.5" font-size="12.51" textLength="18.28" lengthAdjust="spacingAndGlyphs" fill="#000000" stroke="#000000" stroke-width="0.15">0.8</text>
<text x="660.04" y="331.5" font-size="12.51" textLength="18.13" lengthAdjust="spacingAndGlyphs" fill="#000000" stroke="#000000" stroke-width="0.15">1.0</text>
<text x="375.98" y="312.5" font-size="12.51" textLength="18.21" lengthAdjust="spacingAndGlyphs" fill="#000000" stroke="#000000" stroke-width="0.15">0.0</text>
<text x="375.98" y="257.34" font-size="12.51" textLength="17.98" lengthAdjust="spacingAndGlyphs" fill="#000000" stroke="#000000" stroke-width="0.15">0.2</text>
<text x="375.97" y="202.18" font-size="12.51" textLength="18.27" lengthAdjust="spacingAndGlyphs" fill="#000000" stroke="#000000" stroke-width="0.15">0.4</text>
<text x="375.97" y="147.02" font-size="12.51" textLength="18.34" lengthAdjust="spacingAndGlyphs" fill="#000000" stroke="#000000" stroke-width="0.15">0.6</text>
<text x="375.97" y="91.86" font-size="12.51" textLength="18.28" lengthAdjust="spacingAndGlyphs" fill="#000000" stroke="#000000" stroke-width="0.15">0.8</text>
<text x="376.05" y="36.7" font-size="12.51" textLength="18.13" lengthAdjust="spacingAndGlyphs" fill="#000000" stroke="#000000" stroke-width="0.15">1.0</text>
<text x="524.03" y="346.6" font-size="12.51" textLength="34.79" lengthAdjust="spacingAndGlyphs" fill="#000000" stroke="#000000" stroke-width="0.15">Recall</text>
<text transform="translate(370.4,168.5) rotate(-90)" x="-26.27" y="0" font-size="12.51" textLength="52.39" lengthAdjust="spacingAndGlyphs" fill="#000000" stroke="#000000" stroke-width="0.15">Precision</text>
<rect x="42.6" y="367.3" width="281.4" height="297" fill="none" stroke="#000000" stroke-width="1.0"/>
<path d="M55.4,664.3 V667.74 M106.52,664.3 V667.74 M157.64,664.3 V667.74 M208.76,664.3 V667.74 M259.88,664.3 V667.74 M311,664.3 V667.74 M42.6,650.6 H39.16 M42.6,596.64 H39.16 M42.6,542.68 H39.16 M42.6,488.72 H39.16 M42.6,434.76 H39.16 M42.6,380.8 H39.16 " stroke="#000000" stroke-width="1.0" fill="none"/>
<text x="46.26" y="680.2" font-size="12.51" textLength="18.21" lengthAdjust="spacingAndGlyphs" fill="#000000" stroke="#000000" stroke-width="0.15">0.0</text>
<text x="97.39" y="680.2" font-size="12.51" textLength="17.98" lengthAdjust="spacingAndGlyphs" fill="#000000" stroke="#000000" stroke-width="0.15">0.2</text>
<text x="148.5" y="680.2" font-size="12.51" textLength="18.27" lengthAdjust="spacingAndGlyphs" fill="#000000" stroke="#000000" stroke-width="0.15">0.4</text>
<text x="199.62" y="680.2" font-size="12.51" textLength="18.34" lengthAdjust="spacingAndGlyphs" fill="#000000" stroke="#000000" stroke-width="0.15">0.6</text>
<text x="250.74" y="680.2" font-size="12.51" textLength="18.28" lengthAdjust="spacingAndGlyphs" fill="#000000" stroke="#000000" stroke-width="0.15">0.8</text>
<text x="301.94" y="680.2" font-size="12.51" textLength="18.13" lengthAdjust="spacingAndGlyphs" fill="#000000" stroke="#000000" stroke-width="0.15">1.0</text>
<text x="17.28" y="654.9" font-size="12.51" textLength="18.21" lengthAdjust="spacingAndGlyphs" fill="#000000" stroke="#000000" stroke-width="0.15">0.0</text>
<text x="17.28" y="600.94" font-size="12.51" textLength="17.98" lengthAdjust="spacingAndGlyphs" fill="#000000" stroke="#000000" stroke-width="0.15">0.2</text>
<text x="17.27" y="546.98" font-size="12.51" textLength="18.27" lengthAdjust="spacingAndGlyphs" fill="#000000" stroke="#000000" stroke-width="0.15">0.4</text>
<text x="17.27" y="493.02" font-size="12.51" textLength="18.34" lengthAdjust="spacingAndGlyphs" fill="#000000" stroke="#000000" stroke-width="0.15">0.6</text>
<text x="17.27" y="439.06" font-size="12.51" textLength="18.28" lengthAdjust="spacingAndGlyphs" fill="#000000" stroke="#000000" stroke-width="0.15">0.8</text>
<text x="17.35" y="385.1" font-size="12.51" textLength="18.13" lengthAdjust="spacingAndGlyphs" fill="#000000" stroke="#000000" stroke-width="0.15">1.0</text>
<text x="122.35" y="695.3" font-size="12.51" textLength="121.62" lengthAdjust="spacingAndGlyphs" fill="#000000" stroke="#000000" stroke-width="0.15">Predicted probability</text>
<text transform="translate(10.7,516.1) rotate(-90)" x="-60.78" y="0" font-size="12.51" textLength="121.85" lengthAdjust="spacingAndGlyphs" fill="#000000" stroke="#000000" stroke-width="0.15">Observed proportion</text>
<rect x="401.1" y="367.3" width="280.5" height="297" fill="none" stroke="#000000" stroke-width="1.0"/>
<path d="M413.5,664.3 V667.74 M464.6,664.3 V667.74 M515.7,664.3 V667.74 M566.8,664.3 V667.74 M617.9,664.3 V667.74 M669,664.3 V667.74 M401.1,664.3 H397.66 M401.1,621.87 H397.66 M401.1,579.44 H397.66 M401.1,537.01 H397.66 M401.1,494.59 H397.66 M401.1,452.16 H397.66 M401.1,409.73 H397.66 M401.1,367.3 H397.66 " stroke="#000000" stroke-width="1.0" fill="none"/>
<text x="404.36" y="680.2" font-size="12.51" textLength="18.21" lengthAdjust="spacingAndGlyphs" fill="#000000" stroke="#000000" stroke-width="0.15">0.0</text>
<text x="455.47" y="680.2" font-size="12.51" textLength="17.98" lengthAdjust="spacingAndGlyphs" fill="#000000" stroke="#000000" stroke-width="0.15">0.2</text>
<text x="506.56" y="680.2" font-size="12.51" textLength="18.27" lengthAdjust="spacingAndGlyphs" fill="#000000" stroke="#000000" stroke-width="0.15">0.4</text>
<text x="557.66" y="680.2" font-size="12.51" textLength="18.34" lengthAdjust="spacingAndGlyphs" fill="#000000" stroke="#000000" stroke-width="0.15">0.6</text>
<text x="608.76" y="680.2" font-size="12.51" textLength="18.28" lengthAdjust="spacingAndGlyphs" fill="#000000" stroke="#000000" stroke-width="0.15">0.8</text>
<text x="659.94" y="680.2" font-size="12.51" textLength="18.13" lengthAdjust="spacingAndGlyphs" fill="#000000" stroke="#000000" stroke-width="0.15">1.0</text>
<text x="351.18" y="668.6" font-size="12.51" textLength="42.68" lengthAdjust="spacingAndGlyphs" fill="#000000" stroke="#000000" stroke-width="0.15">−0.005</text>
<text x="360.75" y="626.17" font-size="12.51" textLength="33.24" lengthAdjust="spacingAndGlyphs" fill="#000000" stroke="#000000" stroke-width="0.15">0.000</text>
<text x="360.76" y="583.74" font-size="12.51" textLength="33.07" lengthAdjust="spacingAndGlyphs" fill="#000000" stroke="#000000" stroke-width="0.15">0.005</text>
<text x="360.75" y="541.31" font-size="12.51" textLength="33.24" lengthAdjust="spacingAndGlyphs" fill="#000000" stroke="#000000" stroke-width="0.15">0.010</text>
<text x="360.76" y="498.89" font-size="12.51" textLength="33.07" lengthAdjust="spacingAndGlyphs" fill="#000000" stroke="#000000" stroke-width="0.15">0.015</text>
<text x="360.75" y="456.46" font-size="12.51" textLength="33.24" lengthAdjust="spacingAndGlyphs" fill="#000000" stroke="#000000" stroke-width="0.15">0.020</text>
<text x="360.76" y="414.03" font-size="12.51" textLength="33.07" lengthAdjust="spacingAndGlyphs" fill="#000000" stroke="#000000" stroke-width="0.15">0.025</text>
<text x="360.75" y="371.6" font-size="12.51" textLength="33.24" lengthAdjust="spacingAndGlyphs" fill="#000000" stroke="#000000" stroke-width="0.15">0.030</text>
<text x="478.59" y="695.3" font-size="12.51" textLength="124.79" lengthAdjust="spacingAndGlyphs" fill="#000000" stroke="#000000" stroke-width="0.15">Threshold probability</text>
<text transform="translate(344.3,515.5) rotate(-90)" x="-33.36" y="0" font-size="12.51" textLength="65.72" lengthAdjust="spacingAndGlyphs" fill="#000000" stroke="#000000" stroke-width="0.15">Net benefit</text>
<rect x="42.6" y="790.3" width="285" height="296.3" fill="none" stroke="#000000" stroke-width="1.0"/>
<path d="M55.6,1086.6 V1090.04 M107.44,1086.6 V1090.04 M159.28,1086.6 V1090.04 M211.12,1086.6 V1090.04 M262.96,1086.6 V1090.04 M314.8,1086.6 V1090.04 M42.6,1073.4 H39.16 M42.6,1019.46 H39.16 M42.6,965.52 H39.16 M42.6,911.58 H39.16 M42.6,857.64 H39.16 M42.6,803.7 H39.16 " stroke="#000000" stroke-width="1.0" fill="none"/>
<text x="46.46" y="1102.5" font-size="12.51" textLength="18.21" lengthAdjust="spacingAndGlyphs" fill="#000000" stroke="#000000" stroke-width="0.15">0.0</text>
<text x="98.31" y="1102.5" font-size="12.51" textLength="17.98" lengthAdjust="spacingAndGlyphs" fill="#000000" stroke="#000000" stroke-width="0.15">0.2</text>
<text x="150.14" y="1102.5" font-size="12.51" textLength="18.27" lengthAdjust="spacingAndGlyphs" fill="#000000" stroke="#000000" stroke-width="0.15">0.4</text>
<text x="201.98" y="1102.5" font-size="12.51" textLength="18.34" lengthAdjust="spacingAndGlyphs" fill="#000000" stroke="#000000" stroke-width="0.15">0.6</text>
<text x="253.82" y="1102.5" font-size="12.51" textLength="18.28" lengthAdjust="spacingAndGlyphs" fill="#000000" stroke="#000000" stroke-width="0.15">0.8</text>
<text x="305.74" y="1102.5" font-size="12.51" textLength="18.13" lengthAdjust="spacingAndGlyphs" fill="#000000" stroke="#000000" stroke-width="0.15">1.0</text>
<text x="17.28" y="1077.7" font-size="12.51" textLength="18.21" lengthAdjust="spacingAndGlyphs" fill="#000000" stroke="#000000" stroke-width="0.15">0.0</text>
<text x="17.28" y="1023.76" font-size="12.51" textLength="17.98" lengthAdjust="spacingAndGlyphs" fill="#000000" stroke="#000000" stroke-width="0.15">0.2</text>
<text x="17.27" y="969.82" font-size="12.51" textLength="18.27" lengthAdjust="spacingAndGlyphs" fill="#000000" stroke="#000000" stroke-width="0.15">0.4</text>
<text x="17.27" y="915.88" font-size="12.51" textLength="18.34" lengthAdjust="spacingAndGlyphs" fill="#000000" stroke="#000000" stroke-width="0.15">0.6</text>
<text x="17.27" y="861.94" font-size="12.51" textLength="18.28" lengthAdjust="spacingAndGlyphs" fill="#000000" stroke="#000000" stroke-width="0.15">0.8</text>
<text x="17.35" y="808" font-size="12.51" textLength="18.13" lengthAdjust="spacingAndGlyphs" fill="#000000" stroke="#000000" stroke-width="0.15">1.0</text>
<text x="131.53" y="1117.6" font-size="12.51" textLength="107.26" lengthAdjust="spacingAndGlyphs" fill="#000000" stroke="#000000" stroke-width="0.15">False positive rate</text>
<text transform="translate(10.8,938.6) rotate(-90)" x="-51.42" y="0" font-size="12.51" textLength="103.16" lengthAdjust="spacingAndGlyphs" fill="#000000" stroke="#000000" stroke-width="0.15">True positive rate</text>
<rect x="397.7" y="790.3" width="283.9" height="296.3" fill="none" stroke="#000000" stroke-width="1.0"/>
<path d="M410,1086.6 V1090.04 M461.78,1086.6 V1090.04 M513.56,1086.6 V1090.04 M565.34,1086.6 V1090.04 M617.12,1086.6 V1090.04 M668.9,1086.6 V1090.04 M397.7,1077.2 H394.26 M397.7,1042.99 H394.26 M397.7,1008.78 H394.26 M397.7,974.56 H394.26 M397.7,940.35 H394.26 M397.7,906.14 H394.26 M397.7,871.92 H394.26 M397.7,837.71 H394.26 M397.7,803.5 H394.26 " stroke="#000000" stroke-width="1.0" fill="none"/>
<text x="400.86" y="1102.5" font-size="12.51" textLength="18.21" lengthAdjust="spacingAndGlyphs" fill="#000000" stroke="#000000" stroke-width="0.15">0.0</text>
<text x="452.65" y="1102.5" font-size="12.51" textLength="17.98" lengthAdjust="spacingAndGlyphs" fill="#000000" stroke="#000000" stroke-width="0.15">0.2</text>
<text x="504.42" y="1102.5" font-size="12.51" textLength="18.27" lengthAdjust="spacingAndGlyphs" fill="#000000" stroke="#000000" stroke-width="0.15">0.4</text>
<text x="556.2" y="1102.5" font-size="12.51" textLength="18.34" lengthAdjust="spacingAndGlyphs" fill="#000000" stroke="#000000" stroke-width="0.15">0.6</text>
<text x="607.98" y="1102.5" font-size="12.51" textLength="18.28" lengthAdjust="spacingAndGlyphs" fill="#000000" stroke="#000000" stroke-width="0.15">0.8</text>
<text x="659.84" y="1102.5" font-size="12.51" textLength="18.13" lengthAdjust="spacingAndGlyphs" fill="#000000" stroke="#000000" stroke-width="0.15">1.0</text>
<text x="372.38" y="1081.5" font-size="12.51" textLength="17.98" lengthAdjust="spacingAndGlyphs" fill="#000000" stroke="#000000" stroke-width="0.15">0.2</text>
<text x="372.38" y="1047.29" font-size="12.51" textLength="18.09" lengthAdjust="spacingAndGlyphs" fill="#000000" stroke="#000000" stroke-width="0.15">0.3</text>
<text x="372.37" y="1013.08" font-size="12.51" textLength="18.27" lengthAdjust="spacingAndGlyphs" fill="#000000" stroke="#000000" stroke-width="0.15">0.4</text>
<text x="372.38" y="978.86" font-size="12.51" textLength="18.03" lengthAdjust="spacingAndGlyphs" fill="#000000" stroke="#000000" stroke-width="0.15">0.5</text>
<text x="372.37" y="944.65" font-size="12.51" textLength="18.34" lengthAdjust="spacingAndGlyphs" fill="#000000" stroke="#000000" stroke-width="0.15">0.6</text>
<text x="372.38" y="910.44" font-size="12.51" textLength="18.17" lengthAdjust="spacingAndGlyphs" fill="#000000" stroke="#000000" stroke-width="0.15">0.7</text>
<text x="372.37" y="876.22" font-size="12.51" textLength="18.28" lengthAdjust="spacingAndGlyphs" fill="#000000" stroke="#000000" stroke-width="0.15">0.8</text>
<text x="372.37" y="842.01" font-size="12.51" textLength="18.29" lengthAdjust="spacingAndGlyphs" fill="#000000" stroke="#000000" stroke-width="0.15">0.9</text>
<text x="372.45" y="807.8" font-size="12.51" textLength="18.13" lengthAdjust="spacingAndGlyphs" fill="#000000" stroke="#000000" stroke-width="0.15">1.0</text>
<text x="522.23" y="1117.6" font-size="12.51" textLength="34.79" lengthAdjust="spacingAndGlyphs" fill="#000000" stroke="#000000" stroke-width="0.15">Recall</text>
<text transform="translate(366.6,939.8) rotate(-90)" x="-26.27" y="0" font-size="12.51" textLength="52.39" lengthAdjust="spacingAndGlyphs" fill="#000000" stroke="#000000" stroke-width="0.15">Precision</text>
<rect x="42.6" y="1138.5" width="284.8" height="296.7" fill="none" stroke="#000000" stroke-width="1.0"/>
<path d="M55.5,1435.2 V1438.64 M107.28,1435.2 V1438.64 M159.06,1435.2 V1438.64 M210.84,1435.2 V1438.64 M262.62,1435.2 V1438.64 M314.4,1435.2 V1438.64 M42.6,1421.4 H39.16 M42.6,1367.5 H39.16 M42.6,1313.6 H39.16 M42.6,1259.7 H39.16 M42.6,1205.8 H39.16 M42.6,1151.9 H39.16 " stroke="#000000" stroke-width="1.0" fill="none"/>
<text x="46.36" y="1451.1" font-size="12.51" textLength="18.21" lengthAdjust="spacingAndGlyphs" fill="#000000" stroke="#000000" stroke-width="0.15">0.0</text>
<text x="98.15" y="1451.1" font-size="12.51" textLength="17.98" lengthAdjust="spacingAndGlyphs" fill="#000000" stroke="#000000" stroke-width="0.15">0.2</text>
<text x="149.92" y="1451.1" font-size="12.51" textLength="18.27" lengthAdjust="spacingAndGlyphs" fill="#000000" stroke="#000000" stroke-width="0.15">0.4</text>
<text x="201.7" y="1451.1" font-size="12.51" textLength="18.34" lengthAdjust="spacingAndGlyphs" fill="#000000" stroke="#000000" stroke-width="0.15">0.6</text>
<text x="253.48" y="1451.1" font-size="12.51" textLength="18.28" lengthAdjust="spacingAndGlyphs" fill="#000000" stroke="#000000" stroke-width="0.15">0.8</text>
<text x="305.34" y="1451.1" font-size="12.51" textLength="18.13" lengthAdjust="spacingAndGlyphs" fill="#000000" stroke="#000000" stroke-width="0.15">1.0</text>
<text x="17.28" y="1425.7" font-size="12.51" textLength="18.21" lengthAdjust="spacingAndGlyphs" fill="#000000" stroke="#000000" stroke-width="0.15">0.0</text>
<text x="17.28" y="1371.8" font-size="12.51" textLength="17.98" lengthAdjust="spacingAndGlyphs" fill="#000000" stroke="#000000" stroke-width="0.15">0.2</text>
<text x="17.27" y="1317.9" font-size="12.51" textLength="18.27" lengthAdjust="spacingAndGlyphs" fill="#000000" stroke="#000000" stroke-width="0.15">0.4</text>
<text x="17.27" y="1264" font-size="12.51" textLength="18.34" lengthAdjust="spacingAndGlyphs" fill="#000000" stroke="#000000" stroke-width="0.15">0.6</text>
<text x="17.27" y="1210.1" font-size="12.51" textLength="18.28" lengthAdjust="spacingAndGlyphs" fill="#000000" stroke="#000000" stroke-width="0.15">0.8</text>
<text x="17.35" y="1156.2" font-size="12.51" textLength="18.13" lengthAdjust="spacingAndGlyphs" fill="#000000" stroke="#000000" stroke-width="0.15">1.0</text>
<text x="124.05" y="1466.2" font-size="12.51" textLength="121.62" lengthAdjust="spacingAndGlyphs" fill="#000000" stroke="#000000" stroke-width="0.15">Predicted probability</text>
<text transform="translate(10.7,1287.1) rotate(-90)" x="-60.78" y="0" font-size="12.51" textLength="121.85" lengthAdjust="spacingAndGlyphs" fill="#000000" stroke="#000000" stroke-width="0.15">Observed proportion</text>
<rect x="397.4" y="1138.5" width="284.2" height="296.7" fill="none" stroke="#000000" stroke-width="1.0"/>
<path d="M409.9,1435.2 V1438.64 M461.7,1435.2 V1438.64 M513.5,1435.2 V1438.64 M565.3,1435.2 V1438.64 M617.1,1435.2 V1438.64 M668.9,1435.2 V1438.64 M397.4,1435.2 H393.96 M397.4,1392.81 H393.96 M397.4,1350.43 H393.96 M397.4,1308.04 H393.96 M397.4,1265.66 H393.96 M397.4,1223.27 H393.96 M397.4,1180.89 H393.96 M397.4,1138.5 H393.96 " stroke="#000000" stroke-width="1.0" fill="none"/>
<text x="400.76" y="1451.1" font-size="12.51" textLength="18.21" lengthAdjust="spacingAndGlyphs" fill="#000000" stroke="#000000" stroke-width="0.15">0.0</text>
<text x="452.57" y="1451.1" font-size="12.51" textLength="17.98" lengthAdjust="spacingAndGlyphs" fill="#000000" stroke="#000000" stroke-width="0.15">0.2</text>
<text x="504.36" y="1451.1" font-size="12.51" textLength="18.27" lengthAdjust="spacingAndGlyphs" fill="#000000" stroke="#000000" stroke-width="0.15">0.4</text>
<text x="556.16" y="1451.1" font-size="12.51" textLength="18.34" lengthAdjust="spacingAndGlyphs" fill="#000000" stroke="#000000" stroke-width="0.15">0.6</text>
<text x="607.96" y="1451.1" font-size="12.51" textLength="18.28" lengthAdjust="spacingAndGlyphs" fill="#000000" stroke="#000000" stroke-width="0.15">0.8</text>
<text x="659.84" y="1451.1" font-size="12.51" textLength="18.13" lengthAdjust="spacingAndGlyphs" fill="#000000" stroke="#000000" stroke-width="0.15">1.0</text>
<text x="354.98" y="1439.5" font-size="12.51" textLength="35.18" lengthAdjust="spacingAndGlyphs" fill="#000000" stroke="#000000" stroke-width="0.15">−0.05</text>
<text x="364.56" y="1397.11" font-size="12.51" textLength="25.73" lengthAdjust="spacingAndGlyphs" fill="#000000" stroke="#000000" stroke-width="0.15">0.00</text>
<text x="364.57" y="1354.73" font-size="12.51" textLength="25.55" lengthAdjust="spacingAndGlyphs" fill="#000000" stroke="#000000" stroke-width="0.15">0.05</text>
<text x="364.56" y="1312.34" font-size="12.51" textLength="25.73" lengthAdjust="spacingAndGlyphs" fill="#000000" stroke="#000000" stroke-width="0.15">0.10</text>
<text x="364.57" y="1269.96" font-size="12.51" textLength="25.55" lengthAdjust="spacingAndGlyphs" fill="#000000" stroke="#000000" stroke-width="0.15">0.15</text>
<text x="364.56" y="1227.57" font-size="12.51" textLength="25.73" lengthAdjust="spacingAndGlyphs" fill="#000000" stroke="#000000" stroke-width="0.15">0.20</text>
<text x="364.57" y="1185.19" font-size="12.51" textLength="25.55" lengthAdjust="spacingAndGlyphs" fill="#000000" stroke="#000000" stroke-width="0.15">0.25</text>
<text x="364.56" y="1142.8" font-size="12.51" textLength="25.73" lengthAdjust="spacingAndGlyphs" fill="#000000" stroke="#000000" stroke-width="0.15">0.30</text>
<text x="476.74" y="1466.2" font-size="12.51" textLength="124.79" lengthAdjust="spacingAndGlyphs" fill="#000000" stroke="#000000" stroke-width="0.15">Threshold probability</text>
<text transform="translate(348,1286.3) rotate(-90)" x="-33.36" y="0" font-size="12.51" textLength="65.72" lengthAdjust="spacingAndGlyphs" fill="#000000" stroke="#000000" stroke-width="0.15">Net benefit</text>
<rect x="119.3" y="249.5" width="199.69" height="61.16" rx="2" ry="2" fill="#ffffff" fill-opacity="0.8" stroke="#cccccc" stroke-width="1"/>
<line x1="123.2" y1="257.4" x2="142.7" y2="257.4" stroke="#dc0a28" stroke-width="1.7" stroke-linecap="square"/>
<text x="150.52" y="260.7" font-size="10.34" textLength="115.18" lengthAdjust="spacingAndGlyphs" fill="#000000" stroke="#000000" stroke-width="0.15">XGBoost (AUC = 0.939)</text>
<line x1="123.2" y1="272.12" x2="142.7" y2="272.12" stroke="#f4511e" stroke-width="1.7" stroke-linecap="square"/>
<text x="150.6" y="275.42" font-size="10.34" textLength="144.92" lengthAdjust="spacingAndGlyphs" fill="#000000" stroke="#000000" stroke-width="0.15">Random forest (AUC = 0.935)</text>
<line x1="123.2" y1="286.84" x2="142.7" y2="286.84" stroke="#008000" stroke-width="1.7" stroke-linecap="square"/>
<text x="150.59" y="290.14" font-size="10.34" textLength="148.22" lengthAdjust="spacingAndGlyphs" fill="#000000" stroke="#000000" stroke-width="0.15">Neural network (AUC = 0.919)</text>
<line x1="123.2" y1="301.56" x2="142.7" y2="301.56" stroke="#1f77b4" stroke-width="1.7" stroke-linecap="square"/>
<text x="150.6" y="304.86" font-size="10.34" textLength="164.36" lengthAdjust="spacingAndGlyphs" fill="#000000" stroke="#000000" stroke-width="0.15">Logistic regression (AUC = 0.859)</text>
<rect x="405.3" y="249.5" width="215.25" height="61.16" rx="2" ry="2" fill="#ffffff" fill-opacity="0.8" stroke="#cccccc" stroke-width="1"/>
<line x1="409.2" y1="257.4" x2="428.7" y2="257.4" stroke="#dc0a28" stroke-width="1.7" stroke-linecap="square"/>
<text x="436.53" y="260.7" font-size="10.34" textLength="130.73" lengthAdjust="spacingAndGlyphs" fill="#000000" stroke="#000000" stroke-width="0.15">XGBoost (PR-AUC = 0.570)</text>
<line x1="409.2" y1="272.12" x2="428.7" y2="272.12" stroke="#f4511e" stroke-width="1.7" stroke-linecap="square"/>
<text x="436.62" y="275.42" font-size="10.34" textLength="160.46" lengthAdjust="spacingAndGlyphs" fill="#000000" stroke="#000000" stroke-width="0.15">Random forest (PR-AUC = 0.535)</text>
<line x1="409.2" y1="286.84" x2="428.7" y2="286.84" stroke="#008000" stroke-width="1.7" stroke-linecap="square"/>
<text x="436.61" y="290.14" font-size="10.34" textLength="163.81" lengthAdjust="spacingAndGlyphs" fill="#000000" stroke="#000000" stroke-width="0.15">Neural network (PR-AUC = 0.503)</text>
<line x1="409.2" y1="301.56" x2="428.7" y2="301.56" stroke="#1f77b4" stroke-width="1.7" stroke-linecap="square"/>
<text x="436.62" y="304.86" font-size="10.34" textLength="179.86" lengthAdjust="spacingAndGlyphs" fill="#000000" stroke="#000000" stroke-width="0.15">Logistic regression (PR-AUC = 0.279)</text>
<rect x="154.5" y="568.3" width="164.7" height="90.78" rx="2" ry="2" fill="#ffffff" fill-opacity="0.8" stroke="#cccccc" stroke-width="1"/>
<text x="190.61" y="579.95" font-size="10.34" textLength="92.42" lengthAdjust="spacingAndGlyphs" fill="#000000" stroke="#000000" stroke-width="0.15">Model (Brier score)</text>
<line x1="158.4" y1="591.1" x2="177.9" y2="591.1" stroke="#dc0a28" stroke-width="1.7" stroke-linecap="square"/>
<circle cx="168.15" cy="591.1" r="3.4" fill="#dc0a28"/>
<text x="185.72" y="594.4" font-size="10.34" textLength="80.22" lengthAdjust="spacingAndGlyphs" fill="#000000" stroke="#000000" stroke-width="0.15">XGBoost (0.014)</text>
<line x1="158.4" y1="605.82" x2="177.9" y2="605.82" stroke="#f4511e" stroke-width="1.7" stroke-linecap="square"/>
<circle cx="168.15" cy="605.82" r="3.4" fill="#f4511e"/>
<text x="185.8" y="609.12" font-size="10.34" textLength="109.97" lengthAdjust="spacingAndGlyphs" fill="#000000" stroke="#000000" stroke-width="0.15">Random forest (0.015)</text>
<line x1="158.4" y1="620.54" x2="177.9" y2="620.54" stroke="#008000" stroke-width="1.7" stroke-linecap="square"/>
<circle cx="168.15" cy="620.54" r="3.4" fill="#008000"/>
<text x="185.78" y="623.84" font-size="10.34" textLength="113.26" lengthAdjust="spacingAndGlyphs" fill="#000000" stroke="#000000" stroke-width="0.15">Neural network (0.015)</text>
<line x1="158.4" y1="635.26" x2="177.9" y2="635.26" stroke="#1f77b4" stroke-width="1.7" stroke-linecap="square"/>
<circle cx="168.15" cy="635.26" r="3.4" fill="#1f77b4"/>
<text x="185.8" y="638.56" font-size="10.34" textLength="129.4" lengthAdjust="spacingAndGlyphs" fill="#000000" stroke="#000000" stroke-width="0.15">Logistic regression (0.020)</text>
<line x1="158.4" y1="649.98" x2="177.9" y2="649.98" stroke="#808080" stroke-width="1.7" stroke-dasharray="5.46,2.36"/>
<text x="185.79" y="653.28" font-size="10.34" textLength="88.66" lengthAdjust="spacingAndGlyphs" fill="#000000" stroke="#000000" stroke-width="0.15">Perfect calibration</text>
<rect x="551.1" y="372.2" width="126.08" height="90.6" rx="2" ry="2" fill="#ffffff" fill-opacity="0.8" stroke="#cccccc" stroke-width="1"/>
<line x1="555" y1="380.1" x2="574.5" y2="380.1" stroke="#dc0a28" stroke-width="1.7" stroke-linecap="square"/>
<text x="582.33" y="383.4" font-size="10.34" textLength="41.58" lengthAdjust="spacingAndGlyphs" fill="#000000" stroke="#000000" stroke-width="0.15">XGBoost</text>
<line x1="555" y1="394.82" x2="574.5" y2="394.82" stroke="#f4511e" stroke-width="1.7" stroke-linecap="square"/>
<text x="582.41" y="398.12" font-size="10.34" textLength="71.31" lengthAdjust="spacingAndGlyphs" fill="#000000" stroke="#000000" stroke-width="0.15">Random forest</text>
<line x1="555" y1="409.54" x2="574.5" y2="409.54" stroke="#008000" stroke-width="1.7" stroke-linecap="square"/>
<text x="582.39" y="412.84" font-size="10.34" textLength="74.75" lengthAdjust="spacingAndGlyphs" fill="#000000" stroke="#000000" stroke-width="0.15">Neural network</text>
<line x1="555" y1="424.26" x2="574.5" y2="424.26" stroke="#1f77b4" stroke-width="1.7" stroke-linecap="square"/>
<text x="582.4" y="427.56" font-size="10.34" textLength="90.82" lengthAdjust="spacingAndGlyphs" fill="#000000" stroke="#000000" stroke-width="0.15">Logistic regression</text>
<line x1="555" y1="438.98" x2="574.5" y2="438.98" stroke="#ff7f0e" stroke-width="1.7" stroke-dasharray="1.47,2.43"/>
<text x="582.4" y="442.28" font-size="10.34" textLength="52.22" lengthAdjust="spacingAndGlyphs" fill="#000000" stroke="#000000" stroke-width="0.15">Always act</text>
<line x1="555" y1="453.7" x2="574.5" y2="453.7" stroke="#2ca02c" stroke-width="1.7" stroke-dasharray="9.44,2.36,1.47,2.36"/>
<text x="582.39" y="457" font-size="10.34" textLength="47.1" lengthAdjust="spacingAndGlyphs" fill="#000000" stroke="#000000" stroke-width="0.15">Never act</text>
<rect x="123" y="1020.5" width="199.69" height="61.16" rx="2" ry="2" fill="#ffffff" fill-opacity="0.8" stroke="#cccccc" stroke-width="1"/>
<line x1="126.9" y1="1028.4" x2="146.4" y2="1028.4" stroke="#dc0a28" stroke-width="1.7" stroke-linecap="square"/>
<text x="154.22" y="1031.7" font-size="10.34" textLength="115.18" lengthAdjust="spacingAndGlyphs" fill="#000000" stroke="#000000" stroke-width="0.15">XGBoost (AUC = 0.919)</text>
<line x1="126.9" y1="1043.12" x2="146.4" y2="1043.12" stroke="#f4511e" stroke-width="1.7" stroke-linecap="square"/>
<text x="154.3" y="1046.42" font-size="10.34" textLength="144.92" lengthAdjust="spacingAndGlyphs" fill="#000000" stroke="#000000" stroke-width="0.15">Random forest (AUC = 0.914)</text>
<line x1="126.9" y1="1057.84" x2="146.4" y2="1057.84" stroke="#008000" stroke-width="1.7" stroke-linecap="square"/>
<text x="154.29" y="1061.14" font-size="10.34" textLength="148.22" lengthAdjust="spacingAndGlyphs" fill="#000000" stroke="#000000" stroke-width="0.15">Neural network (AUC = 0.907)</text>
<line x1="126.9" y1="1072.56" x2="146.4" y2="1072.56" stroke="#1f77b4" stroke-width="1.7" stroke-linecap="square"/>
<text x="154.3" y="1075.86" font-size="10.34" textLength="164.36" lengthAdjust="spacingAndGlyphs" fill="#000000" stroke="#000000" stroke-width="0.15">Logistic regression (AUC = 0.876)</text>
<rect x="402.1" y="1020.4" width="215.25" height="61.16" rx="2" ry="2" fill="#ffffff" fill-opacity="0.8" stroke="#cccccc" stroke-width="1"/>
<line x1="406" y1="1028.3" x2="425.5" y2="1028.3" stroke="#dc0a28" stroke-width="1.7" stroke-linecap="square"/>
<text x="433.33" y="1031.6" font-size="10.34" textLength="130.73" lengthAdjust="spacingAndGlyphs" fill="#000000" stroke="#000000" stroke-width="0.15">XGBoost (PR-AUC = 0.767)</text>
<line x1="406" y1="1043.02" x2="425.5" y2="1043.02" stroke="#f4511e" stroke-width="1.7" stroke-linecap="square"/>
<text x="433.42" y="1046.32" font-size="10.34" textLength="160.46" lengthAdjust="spacingAndGlyphs" fill="#000000" stroke="#000000" stroke-width="0.15">Random forest (PR-AUC = 0.753)</text>
<line x1="406" y1="1057.74" x2="425.5" y2="1057.74" stroke="#008000" stroke-width="1.7" stroke-linecap="square"/>
<text x="433.41" y="1061.04" font-size="10.34" textLength="163.81" lengthAdjust="spacingAndGlyphs" fill="#000000" stroke="#000000" stroke-width="0.15">Neural network (PR-AUC = 0.741)</text>
<line x1="406" y1="1072.46" x2="425.5" y2="1072.46" stroke="#1f77b4" stroke-width="1.7" stroke-linecap="square"/>
<text x="433.42" y="1075.76" font-size="10.34" textLength="179.86" lengthAdjust="spacingAndGlyphs" fill="#000000" stroke="#000000" stroke-width="0.15">Logistic regression (PR-AUC = 0.675)</text>
<rect x="157.8" y="1338.7" width="164.7" height="90.78" rx="2" ry="2" fill="#ffffff" fill-opacity="0.8" stroke="#cccccc" stroke-width="1"/>
<text x="193.91" y="1350.35" font-size="10.34" textLength="92.42" lengthAdjust="spacingAndGlyphs" fill="#000000" stroke="#000000" stroke-width="0.15">Model (Brier score)</text>
<line x1="161.7" y1="1361.5" x2="181.2" y2="1361.5" stroke="#dc0a28" stroke-width="1.7" stroke-linecap="square"/>
<circle cx="171.45" cy="1361.5" r="3.4" fill="#dc0a28"/>
<text x="189.02" y="1364.8" font-size="10.34" textLength="80.22" lengthAdjust="spacingAndGlyphs" fill="#000000" stroke="#000000" stroke-width="0.15">XGBoost (0.087)</text>
<line x1="161.7" y1="1376.22" x2="181.2" y2="1376.22" stroke="#f4511e" stroke-width="1.7" stroke-linecap="square"/>
<circle cx="171.45" cy="1376.22" r="3.4" fill="#f4511e"/>
<text x="189.1" y="1379.52" font-size="10.34" textLength="109.97" lengthAdjust="spacingAndGlyphs" fill="#000000" stroke="#000000" stroke-width="0.15">Random forest (0.090)</text>
<line x1="161.7" y1="1390.94" x2="181.2" y2="1390.94" stroke="#008000" stroke-width="1.7" stroke-linecap="square"/>
<circle cx="171.45" cy="1390.94" r="3.4" fill="#008000"/>
<text x="189.08" y="1394.24" font-size="10.34" textLength="113.26" lengthAdjust="spacingAndGlyphs" fill="#000000" stroke="#000000" stroke-width="0.15">Neural network (0.092)</text>
<line x1="161.7" y1="1405.66" x2="181.2" y2="1405.66" stroke="#1f77b4" stroke-width="1.7" stroke-linecap="square"/>
<circle cx="171.45" cy="1405.66" r="3.4" fill="#1f77b4"/>
<text x="189.1" y="1408.96" font-size="10.34" textLength="129.4" lengthAdjust="spacingAndGlyphs" fill="#000000" stroke="#000000" stroke-width="0.15">Logistic regression (0.106)</text>
<line x1="161.7" y1="1420.38" x2="181.2" y2="1420.38" stroke="#808080" stroke-width="1.7" stroke-dasharray="5.46,2.36"/>
<text x="189.09" y="1423.68" font-size="10.34" textLength="88.66" lengthAdjust="spacingAndGlyphs" fill="#000000" stroke="#000000" stroke-width="0.15">Perfect calibration</text>
<rect x="551.1" y="1143.3" width="126.08" height="90.6" rx="2" ry="2" fill="#ffffff" fill-opacity="0.8" stroke="#cccccc" stroke-width="1"/>
<line x1="555" y1="1151.2" x2="574.5" y2="1151.2" stroke="#dc0a28" stroke-width="1.7" stroke-linecap="square"/>
<text x="582.33" y="1154.5" font-size="10.34" textLength="41.58" lengthAdjust="spacingAndGlyphs" fill="#000000" stroke="#000000" stroke-width="0.15">XGBoost</text>
<line x1="555" y1="1165.92" x2="574.5" y2="1165.92" stroke="#f4511e" stroke-width="1.7" stroke-linecap="square"/>
<text x="582.41" y="1169.22" font-size="10.34" textLength="71.31" lengthAdjust="spacingAndGlyphs" fill="#000000" stroke="#000000" stroke-width="0.15">Random forest</text>
<line x1="555" y1="1180.64" x2="574.5" y2="1180.64" stroke="#008000" stroke-width="1.7" stroke-linecap="square"/>
<text x="582.39" y="1183.94" font-size="10.34" textLength="74.75" lengthAdjust="spacingAndGlyphs" fill="#000000" stroke="#000000" stroke-width="0.15">Neural network</text>
<line x1="555" y1="1195.36" x2="574.5" y2="1195.36" stroke="#1f77b4" stroke-width="1.7" stroke-linecap="square"/>
<text x="582.4" y="1198.66" font-size="10.34" textLength="90.82" lengthAdjust="spacingAndGlyphs" fill="#000000" stroke="#000000" stroke-width="0.15">Logistic regression</text>
<line x1="555" y1="1210.08" x2="574.5" y2="1210.08" stroke="#ff7f0e" stroke-width="1.7" stroke-dasharray="1.47,2.43"/>
<text x="582.4" y="1213.38" font-size="10.34" textLength="52.22" lengthAdjust="spacingAndGlyphs" fill="#000000" stroke="#000000" stroke-width="0.15">Always act</text>
<line x1="555" y1="1224.8" x2="574.5" y2="1224.8" stroke="#2ca02c" stroke-width="1.7" stroke-dasharray="9.44,2.36,1.47,2.36"/>
<text x="582.39" y="1228.1" font-size="10.34" textLength="47.1" lengthAdjust="spacingAndGlyphs" fill="#000000" stroke="#000000" stroke-width="0.15">Never act</text>
<text x="3.59" y="18.9" font-family='"Liberation Serif", serif' font-size="26.5" textLength="18.59" lengthAdjust="spacingAndGlyphs" fill="#000">A</text>
<text x="355.2" y="19" font-family='"Liberation Serif", serif' font-size="26.5" textLength="17.86" lengthAdjust="spacingAndGlyphs" fill="#000">B</text>
<text x="3.28" y="362.2" font-family='"Liberation Serif", serif' font-size="26.5" textLength="18.72" lengthAdjust="spacingAndGlyphs" fill="#000">C</text>
<text x="355.5" y="362.2" font-family='"Liberation Serif", serif' font-size="26.5" textLength="19.3" lengthAdjust="spacingAndGlyphs" fill="#000">D</text>
<text x="20.13" y="783.3" font-family='"Liberation Serif", serif' font-size="26.5" textLength="19.77" lengthAdjust="spacingAndGlyphs" fill="#000">A</text>
<text x="364.24" y="783.1" font-family='"Liberation Serif", serif' font-size="26.5" textLength="19.11" lengthAdjust="spacingAndGlyphs" fill="#000">B</text>
<text x="20.01" y="1124" font-family='"Liberation Serif", serif' font-size="26.5" textLength="19.89" lengthAdjust="spacingAndGlyphs" fill="#000">C</text>
<text x="364.24" y="1123.4" font-family='"Liberation Serif", serif' font-size="26.5" textLength="20.62" lengthAdjust="spacingAndGlyphs" fill="#000">D</text>
<text x="332.82" y="728.8" font-family='"Liberation Sans", sans-serif' font-size="29.5" textLength="36.29" lengthAdjust="spacingAndGlyphs" fill="#000" font-weight="bold">(a)</text>
<text x="332.52" y="1490.6" font-family='"Liberation Sans", sans-serif' font-size="29.5" textLength="37.88" lengthAdjust="spacingAndGlyphs" fill="#000" font-weight="bold">(b)</text>
</g>
</svg>
</body></html>
